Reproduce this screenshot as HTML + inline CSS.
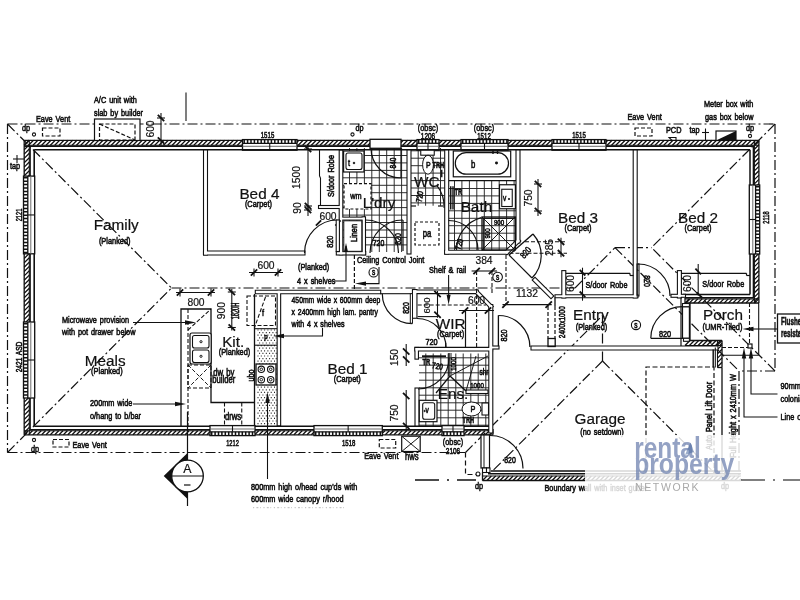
<!DOCTYPE html>
<html><head><meta charset="utf-8"><title>Floor plan</title>
<style>
html,body{margin:0;padding:0;background:#fff;}
body{width:800px;height:600px;overflow:hidden;font-family:"Liberation Sans",sans-serif;}
svg{display:block;}
svg text{font-family:"Liberation Sans",sans-serif;}
</style></head><body>
<svg width="800" height="600" viewBox="0 0 800 600">
<rect x="0" y="0" width="800" height="600" fill="#ffffff"/>
<g opacity="0.999">
<path d="M349.5,148 V252 M356.9,148 V252 M364.4,148 V252 M371.8,148 V252 M379.3,148 V252 M386.7,148 V252 M394.2,148 V252 M401.6,148 V252 M343,155.5 H407 M343,162.9 H407 M343,170.4 H407 M343,177.8 H407 M343,185.3 H407 M343,192.7 H407 M343,200.2 H407 M343,207.6 H407 M343,215.1 H407 M343,222.5 H407 M343,230.0 H407 M343,237.4 H407 M343,244.9 H407" fill="none" stroke="#222" stroke-width="0.94"/>
<path d="M418.2,148 V205.75 M425.6,148 V205.75 M433.1,148 V205.75 M440.5,148 V205.75 M411,150.8 H444.5 M411,158.2 H444.5 M411,165.7 H444.5 M411,173.1 H444.5 M411,180.6 H444.5 M411,188.0 H444.5 M411,195.5 H444.5 M411,202.9 H444.5" fill="none" stroke="#222" stroke-width="0.94"/>
<path d="M454.5,180.7 V252 M461.9,180.7 V252 M469.4,180.7 V252 M476.8,180.7 V252 M484.3,180.7 V252 M491.7,180.7 V252 M499.2,180.7 V252 M506.6,180.7 V252 M514.1,180.7 V252 M449,188.5 H516 M449,195.9 H516 M449,203.4 H516 M449,210.8 H516 M449,218.3 H516 M449,225.7 H516 M449,233.2 H516 M449,240.6 H516 M449,248.1 H516" fill="none" stroke="#222" stroke-width="0.94"/>
<line x1="449" y1="180.7" x2="516" y2="180.7" stroke="#111111" stroke-width="1.2"/>
<path d="M425.8,353.5 V426 M433.2,353.5 V426 M440.8,353.5 V426 M448.2,353.5 V426 M455.8,353.5 V426 M463.2,353.5 V426 M470.8,353.5 V426 M478.2,353.5 V426 M485.8,353.5 V426 M419,357.8 H489 M419,365.2 H489 M419,372.8 H489 M419,380.2 H489 M419,387.8 H489 M419,395.2 H489 M419,402.8 H489 M419,410.2 H489 M419,417.8 H489 M419,425.2 H489" fill="none" stroke="#222" stroke-width="0.94"/>
<line x1="7.5" y1="124" x2="775" y2="124" stroke="#111111" stroke-width="1.2" stroke-dasharray="10 3 2 3"/>
<line x1="7.5" y1="124" x2="7.5" y2="452.5" stroke="#111111" stroke-width="1.2" stroke-dasharray="10 3 2 3"/>
<line x1="7.5" y1="452.5" x2="465.5" y2="452.5" stroke="#111111" stroke-width="1.2" stroke-dasharray="10 3 2 3"/>
<line x1="775" y1="124" x2="775" y2="371" stroke="#111111" stroke-width="1.2" stroke-dasharray="10 3 2 3"/>
<line x1="775" y1="371" x2="739" y2="371" stroke="#111111" stroke-width="1.2" stroke-dasharray="10 3 2 3"/>
<line x1="739" y1="371" x2="739" y2="475" stroke="#111111" stroke-width="1.2" stroke-dasharray="10 3 2 3"/>
<polyline points="465.5,452.5 465.5,474.5 476,474.5" fill="none" stroke="#111111" stroke-width="1.2" stroke-dasharray="5 3"/>
<line x1="415" y1="480" x2="476" y2="480" stroke="#111111" stroke-width="1.6" stroke-dasharray="24 8 2 8"/>
<line x1="741" y1="480" x2="800" y2="480" stroke="#555" stroke-width="1.4" stroke-dasharray="24 8 2 8"/>
<line x1="7.5" y1="124" x2="171.5" y2="288" stroke="#111111" stroke-width="1.2" stroke-dasharray="10 3 2 3"/>
<line x1="7.5" y1="452.5" x2="171.5" y2="288" stroke="#111111" stroke-width="1.2" stroke-dasharray="10 3 2 3"/>
<line x1="171.5" y1="288" x2="575" y2="288" stroke="#111111" stroke-width="1.2" stroke-dasharray="10 3 2 3"/>
<line x1="575" y1="288" x2="615" y2="247.6" stroke="#111111" stroke-width="1.2" stroke-dasharray="10 3 2 3"/>
<line x1="615" y1="247.6" x2="651.5" y2="247.6" stroke="#111111" stroke-width="1.2" stroke-dasharray="10 3 2 3"/>
<line x1="775" y1="124" x2="651.5" y2="247.6" stroke="#111111" stroke-width="1.2" stroke-dasharray="10 3 2 3"/>
<line x1="775" y1="371" x2="651.5" y2="247.6" stroke="#111111" stroke-width="1.2" stroke-dasharray="10 3 2 3"/>
<line x1="615" y1="247.6" x2="739" y2="371" stroke="#111111" stroke-width="1.2" stroke-dasharray="10 3 2 3"/>
<line x1="465.5" y1="452.5" x2="602.5" y2="315.5" stroke="#111111" stroke-width="1.2" stroke-dasharray="10 3 2 3"/>
<line x1="602.5" y1="315.5" x2="602.5" y2="361" stroke="#111111" stroke-width="1.2" stroke-dasharray="10 3 2 3"/>
<line x1="602.5" y1="361" x2="491.5" y2="472" stroke="#111111" stroke-width="1.2" stroke-dasharray="10 3 2 3"/>
<line x1="602.5" y1="361" x2="716.5" y2="475" stroke="#111111" stroke-width="1.2" stroke-dasharray="10 3 2 3"/>
<line x1="24.2" y1="140.3" x2="759" y2="140.3" stroke="#111111" stroke-width="1.32"/>
<line x1="24.2" y1="145.3" x2="759" y2="145.3" stroke="#111111" stroke-width="1.08"/>
<path d="M24.2,145.3 L29.2,140.3 M28.5,145.3 L33.5,140.3 M32.9,145.3 L37.9,140.3 M37.2,145.3 L42.2,140.3 M41.6,145.3 L46.6,140.3 M46.0,145.3 L51.0,140.3 M50.3,145.3 L55.3,140.3 M54.7,145.3 L59.7,140.3 M59.0,145.3 L64.0,140.3 M63.4,145.3 L68.4,140.3 M67.7,145.3 L72.7,140.3 M72.0,145.3 L77.0,140.3 M76.4,145.3 L81.4,140.3 M80.7,145.3 L85.7,140.3 M85.1,145.3 L90.1,140.3 M89.4,145.3 L94.4,140.3 M93.8,145.3 L98.8,140.3 M98.1,145.3 L103.1,140.3 M102.5,145.3 L107.5,140.3 M106.8,145.3 L111.8,140.3 M111.2,145.3 L116.2,140.3 M115.5,145.3 L120.5,140.3 M119.9,145.3 L124.9,140.3 M124.2,145.3 L129.2,140.3 M128.6,145.3 L133.6,140.3 M132.9,145.3 L137.9,140.3 M137.3,145.3 L142.3,140.3 M141.6,145.3 L146.6,140.3 M146.0,145.3 L151.0,140.3 M150.3,145.3 L155.3,140.3 M154.7,145.3 L159.7,140.3 M159.0,145.3 L164.0,140.3 M163.4,145.3 L168.4,140.3 M167.7,145.3 L172.7,140.3 M172.1,145.3 L177.1,140.3 M176.4,145.3 L181.4,140.3 M180.8,145.3 L185.8,140.3 M185.1,145.3 L190.1,140.3 M189.5,145.3 L194.5,140.3 M193.8,145.3 L198.8,140.3 M198.2,145.3 L203.2,140.3 M202.5,145.3 L207.5,140.3 M206.9,145.3 L211.9,140.3 M211.2,145.3 L216.2,140.3 M215.6,145.3 L220.6,140.3 M219.9,145.3 L224.9,140.3 M224.3,145.3 L229.3,140.3 M228.6,145.3 L233.6,140.3 M233.0,145.3 L238.0,140.3 M237.3,145.3 L242.3,140.3 M241.7,145.3 L246.7,140.3 M246.0,145.3 L251.0,140.3 M250.4,145.3 L255.4,140.3 M254.7,145.3 L259.7,140.3 M259.1,145.3 L264.1,140.3 M263.4,145.3 L268.4,140.3 M267.8,145.3 L272.8,140.3 M272.1,145.3 L277.1,140.3 M276.5,145.3 L281.5,140.3 M280.8,145.3 L285.8,140.3 M285.2,145.3 L290.2,140.3 M289.5,145.3 L294.5,140.3 M293.9,145.3 L298.9,140.3 M298.2,145.3 L303.2,140.3 M302.6,145.3 L307.6,140.3 M307.0,145.3 L312.0,140.3 M311.3,145.3 L316.3,140.3 M315.7,145.3 L320.7,140.3 M320.0,145.3 L325.0,140.3 M324.4,145.3 L329.4,140.3 M328.7,145.3 L333.7,140.3 M333.1,145.3 L338.1,140.3 M337.4,145.3 L342.4,140.3 M341.8,145.3 L346.8,140.3 M346.1,145.3 L351.1,140.3 M350.5,145.3 L355.5,140.3 M354.8,145.3 L359.8,140.3 M359.2,145.3 L364.2,140.3 M363.5,145.3 L368.5,140.3 M367.9,145.3 L372.9,140.3 M372.2,145.3 L377.2,140.3 M376.6,145.3 L381.6,140.3 M380.9,145.3 L385.9,140.3 M385.3,145.3 L390.3,140.3 M389.6,145.3 L394.6,140.3 M394.0,145.3 L399.0,140.3 M398.3,145.3 L403.3,140.3 M402.7,145.3 L407.7,140.3 M407.0,145.3 L412.0,140.3 M411.4,145.3 L416.4,140.3 M415.7,145.3 L420.7,140.3 M420.1,145.3 L425.1,140.3 M424.4,145.3 L429.4,140.3 M428.8,145.3 L433.8,140.3 M433.1,145.3 L438.1,140.3 M437.5,145.3 L442.5,140.3 M441.8,145.3 L446.8,140.3 M446.2,145.3 L451.2,140.3 M450.5,145.3 L455.5,140.3 M454.9,145.3 L459.9,140.3 M459.2,145.3 L464.2,140.3 M463.6,145.3 L468.6,140.3 M467.9,145.3 L472.9,140.3 M472.3,145.3 L477.3,140.3 M476.6,145.3 L481.6,140.3 M481.0,145.3 L486.0,140.3 M485.3,145.3 L490.3,140.3 M489.7,145.3 L494.7,140.3 M494.0,145.3 L499.0,140.3 M498.4,145.3 L503.4,140.3 M502.7,145.3 L507.7,140.3 M507.1,145.3 L512.1,140.3 M511.4,145.3 L516.4,140.3 M515.8,145.3 L520.8,140.3 M520.1,145.3 L525.1,140.3 M524.5,145.3 L529.5,140.3 M528.8,145.3 L533.8,140.3 M533.2,145.3 L538.2,140.3 M537.5,145.3 L542.5,140.3 M541.9,145.3 L546.9,140.3 M546.2,145.3 L551.2,140.3 M550.6,145.3 L555.6,140.3 M554.9,145.3 L559.9,140.3 M559.3,145.3 L564.3,140.3 M563.6,145.3 L568.6,140.3 M568.0,145.3 L573.0,140.3 M572.3,145.3 L577.3,140.3 M576.7,145.3 L581.7,140.3 M581.0,145.3 L586.0,140.3 M585.4,145.3 L590.4,140.3 M589.7,145.3 L594.7,140.3 M594.1,145.3 L599.1,140.3 M598.4,145.3 L603.4,140.3 M602.8,145.3 L607.8,140.3 M607.1,145.3 L612.1,140.3 M611.5,145.3 L616.5,140.3 M615.8,145.3 L620.8,140.3 M620.2,145.3 L625.2,140.3 M624.5,145.3 L629.5,140.3 M628.9,145.3 L633.9,140.3 M633.2,145.3 L638.2,140.3 M637.6,145.3 L642.6,140.3 M641.9,145.3 L646.9,140.3 M646.3,145.3 L651.3,140.3 M650.6,145.3 L655.6,140.3 M655.0,145.3 L660.0,140.3 M659.3,145.3 L664.3,140.3 M663.7,145.3 L668.7,140.3 M668.0,145.3 L673.0,140.3 M672.4,145.3 L677.4,140.3 M676.7,145.3 L681.7,140.3 M681.1,145.3 L686.1,140.3 M685.4,145.3 L690.4,140.3 M689.8,145.3 L694.8,140.3 M694.1,145.3 L699.1,140.3 M698.5,145.3 L703.5,140.3 M702.8,145.3 L707.8,140.3 M707.2,145.3 L712.2,140.3 M711.5,145.3 L716.5,140.3 M715.9,145.3 L720.9,140.3 M720.2,145.3 L725.2,140.3 M724.6,145.3 L729.6,140.3 M728.9,145.3 L733.9,140.3 M733.3,145.3 L738.3,140.3 M737.6,145.3 L742.6,140.3 M742.0,145.3 L747.0,140.3 M746.3,145.3 L751.3,140.3 M750.7,145.3 L755.7,140.3 M755.0,145.3 L759.0,141.3" fill="none" stroke="#111111" stroke-width="1.26"/>
<line x1="24.2" y1="146.3" x2="754" y2="146.3" stroke="#111111" stroke-width="1.44"/>
<line x1="34.2" y1="149.7" x2="750" y2="149.7" stroke="#111111" stroke-width="1.4"/>
<line x1="24.2" y1="140.3" x2="24.2" y2="434.8" stroke="#111111" stroke-width="1.32"/>
<line x1="29.3" y1="140.3" x2="29.3" y2="434.8" stroke="#111111" stroke-width="1.08"/>
<path d="M24.2,145.4 L29.3,140.3 M24.2,149.8 L29.3,144.7 M24.2,154.1 L29.3,149.0 M24.2,158.4 L29.3,153.3 M24.2,162.8 L29.3,157.7 M24.2,167.1 L29.3,162.0 M24.2,171.5 L29.3,166.4 M24.2,175.8 L29.3,170.7 M24.2,180.2 L29.3,175.1 M24.2,184.5 L29.3,179.4 M24.2,188.9 L29.3,183.8 M24.2,193.2 L29.3,188.1 M24.2,197.6 L29.3,192.5 M24.2,201.9 L29.3,196.8 M24.2,206.3 L29.3,201.2 M24.2,210.6 L29.3,205.5 M24.2,215.0 L29.3,209.9 M24.2,219.3 L29.3,214.2 M24.2,223.7 L29.3,218.6 M24.2,228.0 L29.3,222.9 M24.2,232.4 L29.3,227.3 M24.2,236.7 L29.3,231.6 M24.2,241.1 L29.3,236.0 M24.2,245.4 L29.3,240.3 M24.2,249.8 L29.3,244.7 M24.2,254.1 L29.3,249.0 M24.2,258.5 L29.3,253.4 M24.2,262.8 L29.3,257.7 M24.2,267.2 L29.3,262.1 M24.2,271.5 L29.3,266.4 M24.2,275.9 L29.3,270.8 M24.2,280.2 L29.3,275.1 M24.2,284.6 L29.3,279.5 M24.2,289.0 L29.3,283.9 M24.2,293.3 L29.3,288.2 M24.2,297.7 L29.3,292.6 M24.2,302.0 L29.3,296.9 M24.2,306.4 L29.3,301.3 M24.2,310.7 L29.3,305.6 M24.2,315.1 L29.3,310.0 M24.2,319.4 L29.3,314.3 M24.2,323.8 L29.3,318.7 M24.2,328.1 L29.3,323.0 M24.2,332.5 L29.3,327.4 M24.2,336.8 L29.3,331.7 M24.2,341.2 L29.3,336.1 M24.2,345.5 L29.3,340.4 M24.2,349.9 L29.3,344.8 M24.2,354.2 L29.3,349.1 M24.2,358.6 L29.3,353.5 M24.2,362.9 L29.3,357.8 M24.2,367.3 L29.3,362.2 M24.2,371.6 L29.3,366.5 M24.2,376.0 L29.3,370.9 M24.2,380.3 L29.3,375.2 M24.2,384.7 L29.3,379.6 M24.2,389.0 L29.3,383.9 M24.2,393.4 L29.3,388.3 M24.2,397.7 L29.3,392.6 M24.2,402.1 L29.3,397.0 M24.2,406.4 L29.3,401.3 M24.2,410.8 L29.3,405.7 M24.2,415.1 L29.3,410.0 M24.2,419.5 L29.3,414.4 M24.2,423.8 L29.3,418.7 M24.2,428.2 L29.3,423.1 M24.2,432.5 L29.3,427.4 M24.2,434.8 L27.2,431.8" fill="none" stroke="#111111" stroke-width="1.26"/>
<line x1="30.2" y1="146" x2="30.2" y2="429.5" stroke="#111111" stroke-width="1.3"/>
<line x1="34.2" y1="149.7" x2="34.2" y2="426" stroke="#111111" stroke-width="1.6"/>
<line x1="24.2" y1="434.8" x2="493" y2="434.8" stroke="#111111" stroke-width="1.32"/>
<line x1="24.2" y1="430.8" x2="493" y2="430.8" stroke="#111111" stroke-width="1.08"/>
<path d="M24.2,434.8 L28.2,430.8 M28.5,434.8 L32.5,430.8 M32.9,434.8 L36.9,430.8 M37.2,434.8 L41.2,430.8 M41.6,434.8 L45.6,430.8 M46.0,434.8 L50.0,430.8 M50.3,434.8 L54.3,430.8 M54.7,434.8 L58.7,430.8 M59.0,434.8 L63.0,430.8 M63.4,434.8 L67.4,430.8 M67.7,434.8 L71.7,430.8 M72.0,434.8 L76.0,430.8 M76.4,434.8 L80.4,430.8 M80.7,434.8 L84.7,430.8 M85.1,434.8 L89.1,430.8 M89.4,434.8 L93.4,430.8 M93.8,434.8 L97.8,430.8 M98.1,434.8 L102.1,430.8 M102.5,434.8 L106.5,430.8 M106.8,434.8 L110.8,430.8 M111.2,434.8 L115.2,430.8 M115.5,434.8 L119.5,430.8 M119.9,434.8 L123.9,430.8 M124.2,434.8 L128.2,430.8 M128.6,434.8 L132.6,430.8 M132.9,434.8 L136.9,430.8 M137.3,434.8 L141.3,430.8 M141.6,434.8 L145.6,430.8 M146.0,434.8 L150.0,430.8 M150.3,434.8 L154.3,430.8 M154.7,434.8 L158.7,430.8 M159.0,434.8 L163.0,430.8 M163.4,434.8 L167.4,430.8 M167.7,434.8 L171.7,430.8 M172.1,434.8 L176.1,430.8 M176.4,434.8 L180.4,430.8 M180.8,434.8 L184.8,430.8 M185.1,434.8 L189.1,430.8 M189.5,434.8 L193.5,430.8 M193.8,434.8 L197.8,430.8 M198.2,434.8 L202.2,430.8 M202.5,434.8 L206.5,430.8 M206.9,434.8 L210.9,430.8 M211.2,434.8 L215.2,430.8 M215.6,434.8 L219.6,430.8 M219.9,434.8 L223.9,430.8 M224.3,434.8 L228.3,430.8 M228.6,434.8 L232.6,430.8 M233.0,434.8 L237.0,430.8 M237.3,434.8 L241.3,430.8 M241.7,434.8 L245.7,430.8 M246.0,434.8 L250.0,430.8 M250.4,434.8 L254.4,430.8 M254.7,434.8 L258.7,430.8 M259.1,434.8 L263.1,430.8 M263.4,434.8 L267.4,430.8 M267.8,434.8 L271.8,430.8 M272.1,434.8 L276.1,430.8 M276.5,434.8 L280.5,430.8 M280.8,434.8 L284.8,430.8 M285.2,434.8 L289.2,430.8 M289.5,434.8 L293.5,430.8 M293.9,434.8 L297.9,430.8 M298.2,434.8 L302.2,430.8 M302.6,434.8 L306.6,430.8 M307.0,434.8 L311.0,430.8 M311.3,434.8 L315.3,430.8 M315.7,434.8 L319.7,430.8 M320.0,434.8 L324.0,430.8 M324.4,434.8 L328.4,430.8 M328.7,434.8 L332.7,430.8 M333.1,434.8 L337.1,430.8 M337.4,434.8 L341.4,430.8 M341.8,434.8 L345.8,430.8 M346.1,434.8 L350.1,430.8 M350.5,434.8 L354.5,430.8 M354.8,434.8 L358.8,430.8 M359.2,434.8 L363.2,430.8 M363.5,434.8 L367.5,430.8 M367.9,434.8 L371.9,430.8 M372.2,434.8 L376.2,430.8 M376.6,434.8 L380.6,430.8 M380.9,434.8 L384.9,430.8 M385.3,434.8 L389.3,430.8 M389.6,434.8 L393.6,430.8 M394.0,434.8 L398.0,430.8 M398.3,434.8 L402.3,430.8 M402.7,434.8 L406.7,430.8 M407.0,434.8 L411.0,430.8 M411.4,434.8 L415.4,430.8 M415.7,434.8 L419.7,430.8 M420.1,434.8 L424.1,430.8 M424.4,434.8 L428.4,430.8 M428.8,434.8 L432.8,430.8 M433.1,434.8 L437.1,430.8 M437.5,434.8 L441.5,430.8 M441.8,434.8 L445.8,430.8 M446.2,434.8 L450.2,430.8 M450.5,434.8 L454.5,430.8 M454.9,434.8 L458.9,430.8 M459.2,434.8 L463.2,430.8 M463.6,434.8 L467.6,430.8 M467.9,434.8 L471.9,430.8 M472.3,434.8 L476.3,430.8 M476.6,434.8 L480.6,430.8 M481.0,434.8 L485.0,430.8 M485.3,434.8 L489.3,430.8 M489.7,434.8 L493.0,431.5" fill="none" stroke="#111111" stroke-width="1.26"/>
<line x1="30" y1="429.6" x2="493" y2="429.6" stroke="#111111" stroke-width="1.44"/>
<line x1="34.2" y1="426.3" x2="489" y2="426.3" stroke="#111111" stroke-width="1.6"/>
<line x1="493" y1="429" x2="493" y2="434.8" stroke="#111111" stroke-width="1.32"/>
<line x1="758.9" y1="140.3" x2="758.9" y2="303" stroke="#111111" stroke-width="1.32"/>
<line x1="754.4" y1="140.3" x2="754.4" y2="303" stroke="#111111" stroke-width="1.08"/>
<path d="M754.4,144.8 L758.9,140.3 M754.4,149.2 L758.9,144.7 M754.4,153.5 L758.9,149.0 M754.4,157.8 L758.9,153.3 M754.4,162.2 L758.9,157.7 M754.4,166.5 L758.9,162.0 M754.4,170.9 L758.9,166.4 M754.4,175.2 L758.9,170.7 M754.4,179.6 L758.9,175.1 M754.4,183.9 L758.9,179.4 M754.4,188.3 L758.9,183.8 M754.4,192.6 L758.9,188.1 M754.4,197.0 L758.9,192.5 M754.4,201.3 L758.9,196.8 M754.4,205.7 L758.9,201.2 M754.4,210.0 L758.9,205.5 M754.4,214.4 L758.9,209.9 M754.4,218.7 L758.9,214.2 M754.4,223.1 L758.9,218.6 M754.4,227.4 L758.9,222.9 M754.4,231.8 L758.9,227.3 M754.4,236.1 L758.9,231.6 M754.4,240.5 L758.9,236.0 M754.4,244.8 L758.9,240.3 M754.4,249.2 L758.9,244.7 M754.4,253.5 L758.9,249.0 M754.4,257.9 L758.9,253.4 M754.4,262.2 L758.9,257.7 M754.4,266.6 L758.9,262.1 M754.4,270.9 L758.9,266.4 M754.4,275.3 L758.9,270.8 M754.4,279.6 L758.9,275.1 M754.4,284.0 L758.9,279.5 M754.4,288.4 L758.9,283.9 M754.4,292.7 L758.9,288.2 M754.4,297.1 L758.9,292.6 M754.4,301.4 L758.9,296.9 M754.4,303.0 L756.1,301.3" fill="none" stroke="#111111" stroke-width="1.26"/>
<line x1="753.4" y1="146" x2="753.4" y2="298" stroke="#111111" stroke-width="1.44"/>
<line x1="750" y1="149.7" x2="750" y2="294.5" stroke="#111111" stroke-width="1.5"/>
<line x1="685" y1="303" x2="759" y2="303" stroke="#111111" stroke-width="1.32"/>
<line x1="685" y1="298.9" x2="759" y2="298.9" stroke="#111111" stroke-width="1.08"/>
<path d="M685.0,303 L689.1,298.9 M689.4,303 L693.5,298.9 M693.7,303 L697.8,298.9 M698.1,303 L702.2,298.9 M702.4,303 L706.5,298.9 M706.8,303 L710.9,298.9 M711.1,303 L715.2,298.9 M715.5,303 L719.6,298.9 M719.8,303 L723.9,298.9 M724.2,303 L728.3,298.9 M728.5,303 L732.6,298.9 M732.9,303 L737.0,298.9 M737.2,303 L741.3,298.9 M741.6,303 L745.7,298.9 M745.9,303 L750.0,298.9 M750.3,303 L754.4,298.9 M754.6,303 L758.7,298.9 M759.0,303 L759.0,303.0" fill="none" stroke="#111111" stroke-width="1.26"/>
<line x1="683" y1="294.5" x2="750" y2="294.5" stroke="#111111" stroke-width="1.4"/>
<line x1="685" y1="297.6" x2="753.4" y2="297.6" stroke="#111111" stroke-width="1.3"/>
<line x1="685" y1="340.5" x2="722" y2="340.5" stroke="#111111" stroke-width="1.32"/>
<line x1="685" y1="345.5" x2="722" y2="345.5" stroke="#111111" stroke-width="1.08"/>
<path d="M685.0,345.5 L690.0,340.5 M689.4,345.5 L694.4,340.5 M693.7,345.5 L698.7,340.5 M698.1,345.5 L703.1,340.5 M702.4,345.5 L707.4,340.5 M706.8,345.5 L711.8,340.5 M711.1,345.5 L716.1,340.5 M715.5,345.5 L720.5,340.5 M719.8,345.5 L722.0,343.3" fill="none" stroke="#111111" stroke-width="1.26"/>
<line x1="722" y1="340.5" x2="722" y2="367.5" stroke="#111111" stroke-width="1.32"/>
<line x1="717.5" y1="340.5" x2="717.5" y2="367.5" stroke="#111111" stroke-width="1.08"/>
<path d="M717.5,345.0 L722.0,340.5 M717.5,349.4 L722.0,344.9 M717.5,353.7 L722.0,349.2 M717.5,358.1 L722.0,353.6 M717.5,362.4 L722.0,357.9 M717.5,366.8 L722.0,362.3 M717.5,367.5 L718.4,366.6" fill="none" stroke="#111111" stroke-width="1.26"/>
<line x1="717.5" y1="367.5" x2="722" y2="367.5" stroke="#111111" stroke-width="1.32"/>
<line x1="685" y1="303" x2="685" y2="340.5" stroke="#111111" stroke-width="1.32"/>
<line x1="690" y1="303" x2="690" y2="340.5" stroke="#111111" stroke-width="1.32"/>
<path d="M685,304.0 L690.0,299.0 M685,306.0 L687.6,303.4" fill="none" stroke="#111111" stroke-width="1.26"/>
<line x1="685" y1="298" x2="685" y2="303" stroke="#111111" stroke-width="1.32"/>
<line x1="482.5" y1="480.5" x2="741" y2="480.5" stroke="#111111" stroke-width="1.32"/>
<line x1="482.5" y1="476" x2="741" y2="476" stroke="#111111" stroke-width="1.08"/>
<path d="M482.5,480.5 L487.0,476.0 M486.9,480.5 L491.4,476.0 M491.2,480.5 L495.7,476.0 M495.6,480.5 L500.1,476.0 M499.9,480.5 L504.4,476.0 M504.3,480.5 L508.8,476.0 M508.6,480.5 L513.1,476.0 M513.0,480.5 L517.5,476.0 M517.3,480.5 L521.8,476.0 M521.7,480.5 L526.2,476.0 M526.0,480.5 L530.5,476.0 M530.4,480.5 L534.9,476.0 M534.7,480.5 L539.2,476.0 M539.1,480.5 L543.6,476.0 M543.4,480.5 L547.9,476.0 M547.8,480.5 L552.3,476.0 M552.1,480.5 L556.6,476.0 M556.5,480.5 L561.0,476.0 M560.8,480.5 L565.3,476.0 M565.2,480.5 L569.7,476.0 M569.5,480.5 L574.0,476.0 M573.9,480.5 L578.4,476.0 M578.2,480.5 L582.7,476.0 M582.6,480.5 L587.1,476.0 M586.9,480.5 L591.4,476.0 M591.3,480.5 L595.8,476.0 M595.6,480.5 L600.1,476.0 M600.0,480.5 L604.5,476.0 M604.3,480.5 L608.8,476.0 M608.7,480.5 L613.2,476.0 M613.0,480.5 L617.5,476.0 M617.4,480.5 L621.9,476.0 M621.7,480.5 L626.2,476.0 M626.1,480.5 L630.6,476.0 M630.4,480.5 L634.9,476.0 M634.8,480.5 L639.3,476.0 M639.1,480.5 L643.6,476.0 M643.5,480.5 L648.0,476.0 M647.8,480.5 L652.3,476.0 M652.2,480.5 L656.7,476.0 M656.5,480.5 L661.0,476.0 M660.9,480.5 L665.4,476.0 M665.2,480.5 L669.7,476.0 M669.6,480.5 L674.1,476.0 M673.9,480.5 L678.4,476.0 M678.3,480.5 L682.8,476.0 M682.6,480.5 L687.1,476.0 M687.0,480.5 L691.5,476.0 M691.3,480.5 L695.8,476.0 M695.7,480.5 L700.2,476.0 M700.0,480.5 L704.5,476.0 M704.4,480.5 L708.9,476.0 M708.7,480.5 L713.2,476.0 M713.1,480.5 L717.6,476.0 M717.4,480.5 L721.9,476.0 M721.8,480.5 L726.3,476.0 M726.1,480.5 L730.6,476.0 M730.5,480.5 L735.0,476.0 M734.8,480.5 L739.3,476.0 M739.2,480.5 L741.0,478.7" fill="none" stroke="#111111" stroke-width="1.26"/>
<line x1="491" y1="471" x2="741" y2="471" stroke="#111111" stroke-width="1.4"/>
<line x1="488" y1="473.8" x2="741" y2="473.8" stroke="#111111" stroke-width="1.44"/>
<line x1="482.5" y1="472.5" x2="482.5" y2="480.5" stroke="#111111" stroke-width="1.32"/>
<line x1="722" y1="367.5" x2="722" y2="472.5" stroke="#111111" stroke-width="1.32"/>
<line x1="205.5" y1="152" x2="205.5" y2="253" stroke="#111111" stroke-width="5.1" stroke-linecap="square"/>
<line x1="205.5" y1="253" x2="303" y2="253" stroke="#111111" stroke-width="5.1" stroke-linecap="square"/>
<line x1="341.0" y1="152" x2="341.0" y2="253" stroke="#111111" stroke-width="4.7" stroke-linecap="square"/>
<line x1="320" y1="207" x2="341.0" y2="207" stroke="#111111" stroke-width="4.1" stroke-linecap="square"/>
<line x1="338" y1="253.3" x2="364" y2="253.3" stroke="#111111" stroke-width="4.5" stroke-linecap="square"/>
<line x1="341.0" y1="218.6" x2="363.8" y2="218.6" stroke="#111111" stroke-width="4.1" stroke-linecap="square"/>
<line x1="363.8" y1="218.6" x2="363.8" y2="253" stroke="#111111" stroke-width="4.5" stroke-linecap="square"/>
<line x1="409" y1="152" x2="409" y2="252" stroke="#111111" stroke-width="5.1" stroke-linecap="square"/>
<line x1="446.7" y1="152" x2="446.7" y2="252" stroke="#111111" stroke-width="5.1" stroke-linecap="square"/>
<line x1="446.7" y1="252.2" x2="506" y2="252.2" stroke="#111111" stroke-width="5.1" stroke-linecap="square"/>
<line x1="518" y1="152" x2="518" y2="241" stroke="#111111" stroke-width="5.1" stroke-linecap="square"/>
<line x1="518" y1="241" x2="507" y2="252" stroke="#111111" stroke-width="5.1" stroke-linecap="square"/>
<line x1="635.2" y1="152" x2="635.2" y2="296" stroke="#111111" stroke-width="5.1" stroke-linecap="square"/>
<line x1="563.8" y1="272.6" x2="563.8" y2="296" stroke="#111111" stroke-width="5.1" stroke-linecap="square"/>
<line x1="556.5" y1="296.2" x2="636.5" y2="296.2" stroke="#111111" stroke-width="4.1" stroke-linecap="square"/>
<line x1="672.5" y1="295.8" x2="684" y2="295.8" stroke="#111111" stroke-width="4.1" stroke-linecap="square"/>
<line x1="679.4" y1="272.6" x2="679.4" y2="296" stroke="#111111" stroke-width="5.1" stroke-linecap="square"/>
<line x1="533" y1="348" x2="716" y2="348" stroke="#111111" stroke-width="5.1" stroke-linecap="square"/>
<line x1="490.8" y1="306.5" x2="490.8" y2="431" stroke="#111111" stroke-width="5.1" stroke-linecap="square"/>
<line x1="490.8" y1="347.5" x2="497.5" y2="347.5" stroke="#111111" stroke-width="4.1" stroke-linecap="square"/>
<line x1="414.7" y1="291.8" x2="476.5" y2="291.8" stroke="#111111" stroke-width="4.7" stroke-linecap="square"/>
<line x1="476.5" y1="291.8" x2="490.8" y2="306.5" stroke="#111111" stroke-width="4.7" stroke-linecap="square"/>
<line x1="414.7" y1="291.8" x2="414.7" y2="316" stroke="#111111" stroke-width="5.6" stroke-linecap="square"/>
<line x1="416.7" y1="349.2" x2="490.8" y2="349.2" stroke="#111111" stroke-width="4.7" stroke-linecap="square"/>
<line x1="416.7" y1="349.2" x2="416.7" y2="357.4" stroke="#111111" stroke-width="4.6" stroke-linecap="square"/>
<line x1="417" y1="390" x2="417" y2="424" stroke="#111111" stroke-width="5.1" stroke-linecap="square"/>
<line x1="278.9" y1="292" x2="278.9" y2="424" stroke="#111111" stroke-width="4.6" stroke-linecap="square"/>
<line x1="257" y1="292" x2="379" y2="292" stroke="#111111" stroke-width="4.5" stroke-linecap="square"/>
<line x1="535" y1="280" x2="551" y2="296" stroke="#111111" stroke-width="5.1" stroke-linecap="square"/>
<line x1="486.5" y1="437" x2="486.5" y2="440" stroke="#111111" stroke-width="4.1" stroke-linecap="square"/>
<line x1="205.5" y1="152" x2="205.5" y2="253" stroke="#fff" stroke-width="2.9" stroke-linecap="square"/>
<line x1="205.5" y1="253" x2="303" y2="253" stroke="#fff" stroke-width="2.9" stroke-linecap="square"/>
<line x1="341.0" y1="152" x2="341.0" y2="253" stroke="#fff" stroke-width="2.5" stroke-linecap="square"/>
<line x1="320" y1="207" x2="341.0" y2="207" stroke="#fff" stroke-width="1.9" stroke-linecap="square"/>
<line x1="338" y1="253.3" x2="364" y2="253.3" stroke="#fff" stroke-width="2.3" stroke-linecap="square"/>
<line x1="341.0" y1="218.6" x2="363.8" y2="218.6" stroke="#fff" stroke-width="1.9" stroke-linecap="square"/>
<line x1="363.8" y1="218.6" x2="363.8" y2="253" stroke="#fff" stroke-width="2.3" stroke-linecap="square"/>
<line x1="409" y1="152" x2="409" y2="252" stroke="#fff" stroke-width="2.9" stroke-linecap="square"/>
<line x1="446.7" y1="152" x2="446.7" y2="252" stroke="#fff" stroke-width="2.9" stroke-linecap="square"/>
<line x1="446.7" y1="252.2" x2="506" y2="252.2" stroke="#fff" stroke-width="2.9" stroke-linecap="square"/>
<line x1="518" y1="152" x2="518" y2="241" stroke="#fff" stroke-width="2.9" stroke-linecap="square"/>
<line x1="518" y1="241" x2="507" y2="252" stroke="#fff" stroke-width="2.9" stroke-linecap="square"/>
<line x1="635.2" y1="152" x2="635.2" y2="296" stroke="#fff" stroke-width="2.9" stroke-linecap="square"/>
<line x1="563.8" y1="272.6" x2="563.8" y2="296" stroke="#fff" stroke-width="2.9" stroke-linecap="square"/>
<line x1="556.5" y1="296.2" x2="636.5" y2="296.2" stroke="#fff" stroke-width="1.9" stroke-linecap="square"/>
<line x1="672.5" y1="295.8" x2="684" y2="295.8" stroke="#fff" stroke-width="1.9" stroke-linecap="square"/>
<line x1="679.4" y1="272.6" x2="679.4" y2="296" stroke="#fff" stroke-width="2.9" stroke-linecap="square"/>
<line x1="533" y1="348" x2="716" y2="348" stroke="#fff" stroke-width="2.9" stroke-linecap="square"/>
<line x1="490.8" y1="306.5" x2="490.8" y2="431" stroke="#fff" stroke-width="2.9" stroke-linecap="square"/>
<line x1="490.8" y1="347.5" x2="497.5" y2="347.5" stroke="#fff" stroke-width="1.9" stroke-linecap="square"/>
<line x1="414.7" y1="291.8" x2="476.5" y2="291.8" stroke="#fff" stroke-width="2.5" stroke-linecap="square"/>
<line x1="476.5" y1="291.8" x2="490.8" y2="306.5" stroke="#fff" stroke-width="2.5" stroke-linecap="square"/>
<line x1="414.7" y1="291.8" x2="414.7" y2="316" stroke="#fff" stroke-width="3.4" stroke-linecap="square"/>
<line x1="416.7" y1="349.2" x2="490.8" y2="349.2" stroke="#fff" stroke-width="2.5" stroke-linecap="square"/>
<line x1="416.7" y1="349.2" x2="416.7" y2="357.4" stroke="#fff" stroke-width="2.4" stroke-linecap="square"/>
<line x1="417" y1="390" x2="417" y2="424" stroke="#fff" stroke-width="2.9" stroke-linecap="square"/>
<line x1="278.9" y1="292" x2="278.9" y2="424" stroke="#fff" stroke-width="2.4" stroke-linecap="square"/>
<line x1="257" y1="292" x2="379" y2="292" stroke="#fff" stroke-width="2.3" stroke-linecap="square"/>
<line x1="535" y1="280" x2="551" y2="296" stroke="#fff" stroke-width="2.9" stroke-linecap="square"/>
<line x1="486.5" y1="437" x2="486.5" y2="440" stroke="#fff" stroke-width="1.9" stroke-linecap="square"/>
<rect x="242.5" y="139.6" width="54.5" height="10.6" fill="#fff" stroke="#111111" stroke-width="1.32" rx="0"/>
<line x1="242.5" y1="143.3" x2="297" y2="143.3" stroke="#111111" stroke-width="1.32"/>
<line x1="242.5" y1="146.3" x2="297" y2="146.3" stroke="#666" stroke-width="0.96"/>
<line x1="242.5" y1="149.7" x2="297" y2="149.7" stroke="#111111" stroke-width="1.3"/>
<path d="M244.2,139.6 V143.3 M247.6,139.6 V143.3 M251.0,139.6 V143.3 M254.4,139.6 V143.3 M257.8,139.6 V143.3 M261.2,139.6 V143.3 M264.6,139.6 V143.3 M268.0,139.6 V143.3 M271.4,139.6 V143.3 M274.8,139.6 V143.3 M278.2,139.6 V143.3 M281.6,139.6 V143.3 M285.0,139.6 V143.3 M288.4,139.6 V143.3 M291.8,139.6 V143.3 M295.2,139.6 V143.3" fill="none" stroke="#111111" stroke-width="1.5"/>
<line x1="269.75" y1="143.3" x2="269.75" y2="150.2" stroke="#111111" stroke-width="1.08"/>
<rect x="417" y="139.6" width="22" height="10.6" fill="#fff" stroke="#111111" stroke-width="1.32" rx="0"/>
<line x1="417" y1="143.3" x2="439" y2="143.3" stroke="#111111" stroke-width="1.32"/>
<line x1="417" y1="146.3" x2="439" y2="146.3" stroke="#666" stroke-width="0.96"/>
<line x1="417" y1="149.7" x2="439" y2="149.7" stroke="#111111" stroke-width="1.3"/>
<path d="M418.7,139.6 V143.3 M422.1,139.6 V143.3 M425.5,139.6 V143.3 M428.9,139.6 V143.3 M432.3,139.6 V143.3 M435.7,139.6 V143.3" fill="none" stroke="#111111" stroke-width="1.5"/>
<line x1="428.0" y1="143.3" x2="428.0" y2="150.2" stroke="#111111" stroke-width="1.08"/>
<rect x="461" y="139.6" width="47" height="10.6" fill="#fff" stroke="#111111" stroke-width="1.32" rx="0"/>
<line x1="461" y1="143.3" x2="508" y2="143.3" stroke="#111111" stroke-width="1.32"/>
<line x1="461" y1="146.3" x2="508" y2="146.3" stroke="#666" stroke-width="0.96"/>
<line x1="461" y1="149.7" x2="508" y2="149.7" stroke="#111111" stroke-width="1.3"/>
<path d="M462.7,139.6 V143.3 M466.1,139.6 V143.3 M469.5,139.6 V143.3 M472.9,139.6 V143.3 M476.3,139.6 V143.3 M479.7,139.6 V143.3 M483.1,139.6 V143.3 M486.5,139.6 V143.3 M489.9,139.6 V143.3 M493.3,139.6 V143.3 M496.7,139.6 V143.3 M500.1,139.6 V143.3 M503.5,139.6 V143.3 M506.9,139.6 V143.3" fill="none" stroke="#111111" stroke-width="1.5"/>
<line x1="484.5" y1="143.3" x2="484.5" y2="150.2" stroke="#111111" stroke-width="1.08"/>
<rect x="552" y="139.6" width="54" height="10.6" fill="#fff" stroke="#111111" stroke-width="1.32" rx="0"/>
<line x1="552" y1="143.3" x2="606" y2="143.3" stroke="#111111" stroke-width="1.32"/>
<line x1="552" y1="146.3" x2="606" y2="146.3" stroke="#666" stroke-width="0.96"/>
<line x1="552" y1="149.7" x2="606" y2="149.7" stroke="#111111" stroke-width="1.3"/>
<path d="M553.7,139.6 V143.3 M557.1,139.6 V143.3 M560.5,139.6 V143.3 M563.9,139.6 V143.3 M567.3,139.6 V143.3 M570.7,139.6 V143.3 M574.1,139.6 V143.3 M577.5,139.6 V143.3 M580.9,139.6 V143.3 M584.3,139.6 V143.3 M587.7,139.6 V143.3 M591.1,139.6 V143.3 M594.5,139.6 V143.3 M597.9,139.6 V143.3 M601.3,139.6 V143.3 M604.7,139.6 V143.3" fill="none" stroke="#111111" stroke-width="1.5"/>
<line x1="579.0" y1="143.3" x2="579.0" y2="150.2" stroke="#111111" stroke-width="1.08"/>
<rect x="210" y="425.6" width="45" height="10" fill="#fff" stroke="#111111" stroke-width="1.32" rx="0"/>
<line x1="210" y1="429" x2="255" y2="429" stroke="#666" stroke-width="0.96"/>
<line x1="210" y1="431.8" x2="255" y2="431.8" stroke="#111111" stroke-width="1.32"/>
<path d="M211.7,431.8 V435.6 M215.1,431.8 V435.6 M218.5,431.8 V435.6 M221.9,431.8 V435.6 M225.3,431.8 V435.6 M228.7,431.8 V435.6 M232.1,431.8 V435.6 M235.5,431.8 V435.6 M238.9,431.8 V435.6 M242.3,431.8 V435.6 M245.7,431.8 V435.6 M249.1,431.8 V435.6 M252.5,431.8 V435.6" fill="none" stroke="#111111" stroke-width="1.5"/>
<line x1="232.5" y1="425.6" x2="232.5" y2="431.8" stroke="#111111" stroke-width="1.08"/>
<rect x="314" y="425.6" width="68.30000000000001" height="10" fill="#fff" stroke="#111111" stroke-width="1.32" rx="0"/>
<line x1="314" y1="429" x2="382.3" y2="429" stroke="#666" stroke-width="0.96"/>
<line x1="314" y1="431.8" x2="382.3" y2="431.8" stroke="#111111" stroke-width="1.32"/>
<path d="M315.7,431.8 V435.6 M319.1,431.8 V435.6 M322.5,431.8 V435.6 M325.9,431.8 V435.6 M329.3,431.8 V435.6 M332.7,431.8 V435.6 M336.1,431.8 V435.6 M339.5,431.8 V435.6 M342.9,431.8 V435.6 M346.3,431.8 V435.6 M349.7,431.8 V435.6 M353.1,431.8 V435.6 M356.5,431.8 V435.6 M359.9,431.8 V435.6 M363.3,431.8 V435.6 M366.7,431.8 V435.6 M370.1,431.8 V435.6 M373.5,431.8 V435.6 M376.9,431.8 V435.6 M380.3,431.8 V435.6" fill="none" stroke="#111111" stroke-width="1.5"/>
<line x1="348.15" y1="425.6" x2="348.15" y2="431.8" stroke="#111111" stroke-width="1.08"/>
<rect x="442" y="425.6" width="22" height="10" fill="#fff" stroke="#111111" stroke-width="1.32" rx="0"/>
<line x1="442" y1="429" x2="464" y2="429" stroke="#666" stroke-width="0.96"/>
<line x1="442" y1="431.8" x2="464" y2="431.8" stroke="#111111" stroke-width="1.32"/>
<path d="M443.7,431.8 V435.6 M447.1,431.8 V435.6 M450.5,431.8 V435.6 M453.9,431.8 V435.6 M457.3,431.8 V435.6 M460.7,431.8 V435.6" fill="none" stroke="#111111" stroke-width="1.5"/>
<line x1="453.0" y1="425.6" x2="453.0" y2="431.8" stroke="#111111" stroke-width="1.08"/>
<rect x="23.5" y="176.1" width="11.2" height="77.70000000000002" fill="#fff" stroke="#111111" stroke-width="1.32" rx="0"/>
<line x1="27.8" y1="176.1" x2="27.8" y2="253.8" stroke="#111111" stroke-width="1.32"/>
<line x1="30.8" y1="176.1" x2="30.8" y2="253.8" stroke="#666" stroke-width="0.96"/>
<path d="M23.5,177.8 H27.8 M23.5,181.2 H27.8 M23.5,184.6 H27.8 M23.5,188.0 H27.8 M23.5,191.4 H27.8 M23.5,194.8 H27.8 M23.5,198.2 H27.8 M23.5,201.6 H27.8 M23.5,205.0 H27.8 M23.5,208.4 H27.8 M23.5,211.8 H27.8 M23.5,215.2 H27.8 M23.5,218.6 H27.8 M23.5,222.0 H27.8 M23.5,225.4 H27.8 M23.5,228.8 H27.8 M23.5,232.2 H27.8 M23.5,235.6 H27.8 M23.5,239.0 H27.8 M23.5,242.4 H27.8 M23.5,245.8 H27.8 M23.5,249.2 H27.8 M23.5,252.6 H27.8" fill="none" stroke="#111111" stroke-width="1.5"/>
<line x1="27.8" y1="214.95" x2="34.7" y2="214.95" stroke="#111111" stroke-width="1.08"/>
<rect x="23.5" y="322" width="11.2" height="76" fill="#fff" stroke="#111111" stroke-width="1.32" rx="0"/>
<line x1="27.8" y1="322" x2="27.8" y2="398" stroke="#111111" stroke-width="1.32"/>
<line x1="30.8" y1="322" x2="30.8" y2="398" stroke="#666" stroke-width="0.96"/>
<path d="M23.5,323.7 H27.8 M23.5,327.1 H27.8 M23.5,330.5 H27.8 M23.5,333.9 H27.8 M23.5,337.3 H27.8 M23.5,340.7 H27.8 M23.5,344.1 H27.8 M23.5,347.5 H27.8 M23.5,350.9 H27.8 M23.5,354.3 H27.8 M23.5,357.7 H27.8 M23.5,361.1 H27.8 M23.5,364.5 H27.8 M23.5,367.9 H27.8 M23.5,371.3 H27.8 M23.5,374.7 H27.8 M23.5,378.1 H27.8 M23.5,381.5 H27.8 M23.5,384.9 H27.8 M23.5,388.3 H27.8 M23.5,391.7 H27.8 M23.5,395.1 H27.8" fill="none" stroke="#111111" stroke-width="1.5"/>
<line x1="27.8" y1="360.0" x2="34.7" y2="360.0" stroke="#111111" stroke-width="1.08"/>
<rect x="749.3" y="185" width="10.4" height="69" fill="#fff" stroke="#111111" stroke-width="1.32" rx="0"/>
<line x1="752.8" y1="185" x2="752.8" y2="254" stroke="#666" stroke-width="0.96"/>
<line x1="755.6" y1="185" x2="755.6" y2="254" stroke="#111111" stroke-width="1.32"/>
<path d="M755.6,186.7 H759.7 M755.6,190.1 H759.7 M755.6,193.5 H759.7 M755.6,196.9 H759.7 M755.6,200.3 H759.7 M755.6,203.7 H759.7 M755.6,207.1 H759.7 M755.6,210.5 H759.7 M755.6,213.9 H759.7 M755.6,217.3 H759.7 M755.6,220.7 H759.7 M755.6,224.1 H759.7 M755.6,227.5 H759.7 M755.6,230.9 H759.7 M755.6,234.3 H759.7 M755.6,237.7 H759.7 M755.6,241.1 H759.7 M755.6,244.5 H759.7 M755.6,247.9 H759.7 M755.6,251.3 H759.7" fill="none" stroke="#111111" stroke-width="1.5"/>
<line x1="749.3" y1="219.5" x2="755.6" y2="219.5" stroke="#111111" stroke-width="1.08"/>
<rect x="370" y="139.3" width="31" height="9" fill="#fff" stroke="#111111" stroke-width="1.32" rx="0"/>
<text transform="translate(94,103) scale(0.77,1)" font-size="9.5" text-anchor="start" font-weight="normal" fill="#111111" stroke="#111111" stroke-width="0.6" opacity="1" word-spacing="1.2">A/C unit with</text>
<text transform="translate(94,115.5) scale(0.77,1)" font-size="9.5" text-anchor="start" font-weight="normal" fill="#111111" stroke="#111111" stroke-width="0.6" opacity="1" word-spacing="1.2">slab by builder</text>
<text transform="translate(36,122) scale(0.77,1)" font-size="9.5" text-anchor="start" font-weight="normal" fill="#111111" stroke="#111111" stroke-width="0.6" opacity="1" word-spacing="1.2">Eave Vent</text>
<text transform="translate(22,131) scale(0.77,1)" font-size="9.5" text-anchor="start" font-weight="normal" fill="#111111" stroke="#111111" stroke-width="0.6" opacity="1" word-spacing="1.2">dp</text>
<circle cx="34" cy="134.5" r="1.6" fill="none" stroke="#111111" stroke-width="1.08"/>
<rect x="42.5" y="128" width="17.5" height="8" fill="none" stroke="#111111" stroke-width="1.2" stroke-dasharray="4 2" rx="0"/>
<rect x="94.5" y="119" width="45.5" height="21.5" fill="#fff" stroke="#111111" stroke-width="1.2" rx="0"/>
<rect x="99.5" y="124" width="35.5" height="16" fill="none" stroke="#111111" stroke-width="1.2" stroke-dasharray="4 2" rx="0"/>
<line x1="99.5" y1="124" x2="135" y2="140" stroke="#111111" stroke-width="1.2" stroke-dasharray="4 2"/>
<line x1="161" y1="113" x2="161" y2="145.5" stroke="#111111" stroke-width="1.08"/>
<line x1="157" y1="118" x2="165" y2="118" stroke="#111111" stroke-width="1.08"/>
<line x1="157.8" y1="114.8" x2="164.2" y2="121.2" stroke="#111111" stroke-width="1.8"/>
<line x1="157" y1="140.5" x2="165" y2="140.5" stroke="#111111" stroke-width="1.08"/>
<line x1="157.8" y1="137.3" x2="164.2" y2="143.7" stroke="#111111" stroke-width="1.8"/>
<text transform="translate(154,129) rotate(-90)" font-size="10.3" text-anchor="middle" font-weight="normal" fill="#111111" stroke="#111111" stroke-width="0.2" opacity="1" word-spacing="0">600</text>
<line x1="186" y1="92.5" x2="186" y2="121" stroke="#111111" stroke-width="1.08"/>
<text transform="translate(10,169) scale(0.77,1)" font-size="9.5" text-anchor="start" font-weight="normal" fill="#111111" stroke="#111111" stroke-width="0.6" opacity="1" word-spacing="1.2">tap</text>
<line x1="13" y1="159" x2="24.5" y2="159" stroke="#111111" stroke-width="1.08"/>
<line x1="17" y1="155" x2="17" y2="163" stroke="#111111" stroke-width="1.08"/>
<text transform="translate(21.8,215) rotate(-90) scale(0.6,1)" font-size="9.5" text-anchor="middle" font-weight="normal" fill="#111111" stroke="#111111" stroke-width="0.6" opacity="1" word-spacing="1.2">2121</text>
<text transform="translate(22.3,357) rotate(-90) scale(0.7,1)" font-size="9.5" text-anchor="middle" font-weight="normal" fill="#111111" stroke="#111111" stroke-width="0.6" opacity="1" word-spacing="1.2">2421 ASD</text>
<circle cx="34" cy="440" r="1.6" fill="none" stroke="#111111" stroke-width="1.08"/>
<text transform="translate(31,452) scale(0.77,1)" font-size="9.5" text-anchor="start" font-weight="normal" fill="#111111" stroke="#111111" stroke-width="0.6" opacity="1" word-spacing="1.2">dp</text>
<rect x="53" y="439.5" width="16" height="7.5" fill="none" stroke="#111111" stroke-width="1.2" stroke-dasharray="4 2" rx="0"/>
<text transform="translate(72.5,447.5) scale(0.77,1)" font-size="9.5" text-anchor="start" font-weight="normal" fill="#111111" stroke="#111111" stroke-width="0.6" opacity="1" word-spacing="1.2">Eave Vent</text>
<text transform="translate(267.5,138) scale(0.64,1)" font-size="9.5" text-anchor="middle" font-weight="normal" fill="#111111" stroke="#111111" stroke-width="0.6" opacity="1" word-spacing="1.2">1515</text>
<text transform="translate(579,138) scale(0.64,1)" font-size="9.5" text-anchor="middle" font-weight="normal" fill="#111111" stroke="#111111" stroke-width="0.6" opacity="1" word-spacing="1.2">1515</text>
<text transform="translate(428,131) scale(0.77,1)" font-size="9.5" text-anchor="middle" font-weight="normal" fill="#111111" stroke="#111111" stroke-width="0.6" opacity="1" word-spacing="1.2">(obsc)</text>
<text transform="translate(428,138.5) scale(0.68,1)" font-size="9.5" text-anchor="middle" font-weight="normal" fill="#111111" stroke="#111111" stroke-width="0.6" opacity="1" word-spacing="1.2">1206</text>
<text transform="translate(484,131) scale(0.77,1)" font-size="9.5" text-anchor="middle" font-weight="normal" fill="#111111" stroke="#111111" stroke-width="0.6" opacity="1" word-spacing="1.2">(obsc)</text>
<text transform="translate(484,138.5) scale(0.64,1)" font-size="9.5" text-anchor="middle" font-weight="normal" fill="#111111" stroke="#111111" stroke-width="0.6" opacity="1" word-spacing="1.2">1512</text>
<text transform="translate(355.5,131) scale(0.77,1)" font-size="9.5" text-anchor="start" font-weight="normal" fill="#111111" stroke="#111111" stroke-width="0.6" opacity="1" word-spacing="1.2">dp</text>
<circle cx="352.5" cy="134.5" r="1.6" fill="none" stroke="#111111" stroke-width="1.08"/>
<text transform="translate(232.5,445.5) scale(0.6,1)" font-size="9.5" text-anchor="middle" font-weight="normal" fill="#111111" stroke="#111111" stroke-width="0.6" opacity="1" word-spacing="1.2">1212</text>
<text transform="translate(348.7,445.5) scale(0.64,1)" font-size="9.5" text-anchor="middle" font-weight="normal" fill="#111111" stroke="#111111" stroke-width="0.6" opacity="1" word-spacing="1.2">1518</text>
<text transform="translate(453,445) scale(0.77,1)" font-size="9.5" text-anchor="middle" font-weight="normal" fill="#111111" stroke="#111111" stroke-width="0.6" opacity="1" word-spacing="1.2">(obsc)</text>
<text transform="translate(453,454) scale(0.68,1)" font-size="9.5" text-anchor="middle" font-weight="normal" fill="#111111" stroke="#111111" stroke-width="0.6" opacity="1" word-spacing="1.2">2106</text>
<rect x="379.3" y="439.5" width="16.4" height="8.5" fill="none" stroke="#111111" stroke-width="1.2" stroke-dasharray="4 2" rx="0"/>
<text transform="translate(364.2,458.8) scale(0.77,1)" font-size="9.5" text-anchor="start" font-weight="normal" fill="#111111" stroke="#111111" stroke-width="0.6" opacity="1" word-spacing="1.2">Eave Vent</text>
<line x1="319.5" y1="150" x2="319.5" y2="176" stroke="#111111" stroke-width="1.08"/>
<line x1="320.5" y1="178" x2="320.5" y2="205" stroke="#111111" stroke-width="1.08"/>
<line x1="319.5" y1="176" x2="320.5" y2="178" stroke="#111111" stroke-width="1.08"/>
<text transform="translate(334,176) rotate(-90) scale(0.77,1)" font-size="9.5" text-anchor="middle" font-weight="normal" fill="#111111" stroke="#111111" stroke-width="0.6" opacity="1" word-spacing="1.2">S/door Robe</text>
<line x1="308" y1="144" x2="308" y2="211" stroke="#111111" stroke-width="1.08"/>
<line x1="304" y1="149" x2="312" y2="149" stroke="#111111" stroke-width="1.08"/>
<line x1="304.8" y1="145.8" x2="311.2" y2="152.2" stroke="#111111" stroke-width="1.8"/>
<line x1="304" y1="206" x2="312" y2="206" stroke="#111111" stroke-width="1.08"/>
<line x1="304.8" y1="202.8" x2="311.2" y2="209.2" stroke="#111111" stroke-width="1.8"/>
<text transform="translate(300,177.5) rotate(-90)" font-size="10.3" text-anchor="middle" font-weight="normal" fill="#111111" stroke="#111111" stroke-width="0.2" opacity="1" word-spacing="0">1500</text>
<line x1="304.8" y1="206.8" x2="311.2" y2="213.2" stroke="#111111" stroke-width="1.8"/>
<line x1="304" y1="210" x2="312" y2="210" stroke="#111111" stroke-width="1.08"/>
<line x1="308" y1="206" x2="308" y2="216" stroke="#111111" stroke-width="1.08"/>
<text transform="translate(300.5,208) rotate(-90)" font-size="10.3" text-anchor="middle" font-weight="normal" fill="#111111" stroke="#111111" stroke-width="0.2" opacity="1" word-spacing="0">90</text>
<text transform="translate(328,220)" font-size="10.3" text-anchor="middle" font-weight="normal" fill="#111111" stroke="#111111" stroke-width="0.2" opacity="1" word-spacing="0">600</text>
<line x1="315.9" y1="225.6" x2="321.1" y2="220.4" stroke="#111111" stroke-width="1.8"/>
<line x1="335.4" y1="225.6" x2="340.6" y2="220.4" stroke="#111111" stroke-width="1.8"/>
<path d="M304.5,253.0 A33,33 0 0 1 337.5,220.0" fill="none" stroke="#111111" stroke-width="1.2"/>
<rect x="336.2" y="220" width="3.2" height="31.5" fill="#fff" stroke="#111111" stroke-width="1.08" rx="0"/>
<text transform="translate(333.2,241.7) rotate(-90) scale(0.77,1)" font-size="9.5" text-anchor="middle" font-weight="normal" fill="#111111" stroke="#111111" stroke-width="0.6" opacity="1" word-spacing="1.2">820</text>
<rect x="343.6" y="151" width="20.4" height="21" fill="#fff" stroke="#111111" stroke-width="1.2" rx="0"/>
<rect x="346" y="153" width="16" height="16.5" fill="none" stroke="#111111" stroke-width="1.08" rx="2"/>
<text transform="translate(348,166) scale(0.77,1)" font-size="9.5" text-anchor="start" font-weight="normal" fill="#111111" stroke="#111111" stroke-width="0.6" opacity="1" word-spacing="1.2">t</text>
<circle cx="354" cy="163" r="0.8" fill="#111111" stroke="#111111" stroke-width="0.96"/>
<rect x="344" y="183.6" width="27" height="25.4" fill="#fff" stroke="#111111" stroke-width="1.2" stroke-dasharray="3 2" rx="0"/>
<text transform="translate(356,199) scale(0.77,1)" font-size="9.5" text-anchor="middle" font-weight="normal" fill="#111111" stroke="#111111" stroke-width="0.6" opacity="1" word-spacing="1.2">wm</text>
<path d="M371.0,148.0 A30,30 0 0 0 401.0,178.0" fill="none" stroke="#111111" stroke-width="1.2"/>
<line x1="401" y1="148" x2="401" y2="178" stroke="#111111" stroke-width="1.2"/>
<text transform="translate(396,163) rotate(-90) scale(0.77,1)" font-size="8.5" text-anchor="middle" font-weight="normal" fill="#111111" stroke="#111111" stroke-width="0.6" opacity="1" word-spacing="1.2">840</text>
<rect x="343.8" y="220.8" width="18" height="30.5" fill="#fff" stroke="#111111" stroke-width="0.96" rx="0"/>
<text transform="translate(357,233) rotate(-90) scale(0.77,1)" font-size="9.5" text-anchor="middle" font-weight="normal" fill="#111111" stroke="#111111" stroke-width="0.6" opacity="1" word-spacing="1.2">Linen</text>
<path d="M370.0,253.0 A33,33 0 0 1 403.0,220.0" fill="none" stroke="#111111" stroke-width="1.2"/>
<path d="M365.5,220.0 A33,33 0 0 1 398.5,253.0" fill="none" stroke="#111111" stroke-width="1.2"/>
<line x1="403" y1="220" x2="403" y2="251" stroke="#111111" stroke-width="1.2"/>
<text transform="translate(378.5,246) scale(0.77,1)" font-size="9" text-anchor="middle" font-weight="normal" fill="#111111" stroke="#111111" stroke-width="0.6" opacity="1" word-spacing="1.2">720</text>
<text transform="translate(401,239) rotate(-90) scale(0.77,1)" font-size="9" text-anchor="middle" font-weight="normal" fill="#111111" stroke="#111111" stroke-width="0.6" opacity="1" word-spacing="1.2">820</text>
<rect x="420.75" y="150.2" width="13.5" height="5" fill="#fff" stroke="#111111" stroke-width="1.08" rx="0"/>
<ellipse cx="428" cy="164.7" rx="5.4" ry="9.5" fill="#fff" stroke="#111111" stroke-width="1"/>
<text transform="translate(426,168.3) scale(0.77,1)" font-size="9" text-anchor="start" font-weight="normal" fill="#111111" stroke="#111111" stroke-width="0.6" opacity="1" word-spacing="1.2">P</text>
<text transform="translate(432.5,168.3) scale(0.6,1)" font-size="9.5" text-anchor="start" font-weight="bold" fill="#111111" stroke="#111111" stroke-width="0.6" opacity="1" word-spacing="1.2">TRH</text>
<line x1="441.75" y1="169.75" x2="441.75" y2="177.25" stroke="#111111" stroke-width="1.4"/>
<rect x="415" y="222" width="24" height="23" fill="none" stroke="#111111" stroke-width="1.2" stroke-dasharray="3 2" rx="0"/>
<text transform="translate(427,237) scale(0.77,1)" font-size="10" text-anchor="middle" font-weight="normal" fill="#111111" stroke="#111111" stroke-width="0.6" opacity="1" word-spacing="1.2">pa</text>
<path d="M437.0,185.7 A33,33 0 0 1 444.0,207.7" fill="none" stroke="#111111" stroke-width="1.2"/>
<text transform="translate(422.5,197) rotate(-82) scale(0.77,1)" font-size="8.5" text-anchor="middle" font-weight="normal" fill="#111111" stroke="#111111" stroke-width="0.6" opacity="1" word-spacing="1.2">720</text>
<line x1="411" y1="206" x2="416" y2="206" stroke="#111111" stroke-width="1.2"/>
<line x1="438" y1="206" x2="443" y2="206" stroke="#111111" stroke-width="1.2"/>
<rect x="453.3" y="151" width="57.4" height="25.8" fill="#fff" stroke="#111111" stroke-width="1.2" rx="0"/>
<rect x="455.3" y="152.6" width="53.2" height="21.6" fill="#fff" stroke="#111111" stroke-width="1.2" rx="10.8"/>
<text transform="translate(471,168) scale(0.77,1)" font-size="10" text-anchor="start" font-weight="normal" fill="#111111" stroke="#111111" stroke-width="0.6" opacity="1" word-spacing="1.2">b</text>
<circle cx="496.5" cy="163" r="0.9" fill="#111111" stroke="#111111" stroke-width="1.08"/>
<line x1="493" y1="150" x2="493" y2="154" stroke="#111111" stroke-width="1.4"/>
<line x1="497.5" y1="150" x2="497.5" y2="154" stroke="#111111" stroke-width="1.4"/>
<line x1="450.75" y1="186.25" x2="450.75" y2="209.5" stroke="#111111" stroke-width="1.44"/>
<line x1="453" y1="186.25" x2="453" y2="209.5" stroke="#111111" stroke-width="1.44"/>
<text transform="translate(454.5,194.5) scale(0.62,1)" font-size="9.5" text-anchor="start" font-weight="bold" fill="#111111" stroke="#111111" stroke-width="0.6" opacity="1" word-spacing="1.2">TR</text>
<rect x="499.5" y="184.75" width="15.9" height="24" fill="#fff" stroke="#111111" stroke-width="1.2" rx="0"/>
<rect x="501.75" y="189.25" width="10.5" height="17.25" fill="none" stroke="#111111" stroke-width="1.08" rx="0"/>
<text transform="translate(503,201) scale(0.77,1)" font-size="8.5" text-anchor="start" font-weight="normal" fill="#111111" stroke="#111111" stroke-width="0.6" opacity="1" word-spacing="1.2">v</text>
<circle cx="509" cy="199" r="0.7" fill="#111111" stroke="#111111" stroke-width="0.84"/>
<rect x="482" y="217" width="33.4" height="33" fill="none" stroke="#111111" stroke-width="1.32" rx="0"/>
<line x1="483.4" y1="218.4" x2="515" y2="218.4" stroke="#111111" stroke-width="0.96"/>
<line x1="483.4" y1="218.4" x2="483.4" y2="250" stroke="#111111" stroke-width="0.96"/>
<line x1="482" y1="250" x2="515" y2="217" stroke="#111111" stroke-width="0.96"/>
<line x1="515" y1="250" x2="482" y2="217" stroke="#111111" stroke-width="0.96"/>
<text transform="translate(499,225) scale(0.77,1)" font-size="8" text-anchor="middle" font-weight="normal" fill="#111111" stroke="#111111" stroke-width="0.6" opacity="1" word-spacing="1.2">900</text>
<text transform="translate(490,233.5) rotate(-90) scale(0.77,1)" font-size="8" text-anchor="middle" font-weight="normal" fill="#111111" stroke="#111111" stroke-width="0.6" opacity="1" word-spacing="1.2">900</text>
<path d="M448.5,220.5 A29.5,29.5 0 0 1 478.0,250.0" fill="none" stroke="#111111" stroke-width="1.2"/>
<path d="M481.3,217.6 A33.5,33.5 0 0 0 456.5,250" fill="none" stroke="#111111" stroke-width="1.2"/>
<text transform="translate(462,245) rotate(-75) scale(0.77,1)" font-size="8.5" text-anchor="middle" font-weight="normal" fill="#111111" stroke="#111111" stroke-width="0.6" opacity="1" word-spacing="1.2">720</text>
<line x1="538" y1="179" x2="538" y2="216" stroke="#111111" stroke-width="1.08"/>
<line x1="534" y1="184" x2="542" y2="184" stroke="#111111" stroke-width="1.08"/>
<line x1="534.8" y1="180.8" x2="541.2" y2="187.2" stroke="#111111" stroke-width="1.8"/>
<line x1="534" y1="211" x2="542" y2="211" stroke="#111111" stroke-width="1.08"/>
<line x1="534.8" y1="207.8" x2="541.2" y2="214.2" stroke="#111111" stroke-width="1.8"/>
<text transform="translate(531.5,198) rotate(-90)" font-size="10.3" text-anchor="middle" font-weight="normal" fill="#111111" stroke="#111111" stroke-width="0.2" opacity="1" word-spacing="0">750</text>
<line x1="561" y1="237.8" x2="561" y2="257.2" stroke="#111111" stroke-width="1.08"/>
<line x1="561" y1="241.8" x2="561" y2="241.8" stroke="#111111" stroke-width="1.08"/>
<line x1="557.8" y1="238.60000000000002" x2="564.2" y2="245.0" stroke="#111111" stroke-width="1.8"/>
<line x1="561" y1="253.2" x2="561" y2="253.2" stroke="#111111" stroke-width="1.08"/>
<line x1="557.8" y1="250.0" x2="564.2" y2="256.4" stroke="#111111" stroke-width="1.8"/>
<text transform="translate(553,247.5) rotate(-90)" font-size="10.3" text-anchor="middle" font-weight="normal" fill="#111111" stroke="#111111" stroke-width="0.2" opacity="1" word-spacing="0">285</text>
<line x1="509.5" y1="253.2" x2="567" y2="253.2" stroke="#111111" stroke-width="1.08" stroke-dasharray="4 2"/>
<line x1="525" y1="241.8" x2="567" y2="241.8" stroke="#111111" stroke-width="1.08" stroke-dasharray="4 2"/>
<line x1="249" y1="272.5" x2="283" y2="272.5" stroke="#111111" stroke-width="1.08"/>
<line x1="254" y1="268.5" x2="254" y2="276.5" stroke="#111111" stroke-width="1.08"/>
<line x1="250.8" y1="275.7" x2="257.2" y2="269.3" stroke="#111111" stroke-width="1.8"/>
<line x1="278" y1="268.5" x2="278" y2="276.5" stroke="#111111" stroke-width="1.08"/>
<line x1="274.8" y1="275.7" x2="281.2" y2="269.3" stroke="#111111" stroke-width="1.8"/>
<text transform="translate(266.0,268.5)" font-size="10.3" text-anchor="middle" font-weight="normal" fill="#111111" stroke="#111111" stroke-width="0.2" opacity="1" word-spacing="0">600</text>
<text transform="translate(298,269.5) scale(0.77,1)" font-size="9.5" text-anchor="start" font-weight="normal" fill="#111111" stroke="#111111" stroke-width="0.6" opacity="1" word-spacing="1.2">(Planked)</text>
<text transform="translate(297,284) scale(0.77,1)" font-size="9.5" text-anchor="start" font-weight="normal" fill="#111111" stroke="#111111" stroke-width="0.6" opacity="1" word-spacing="1.2">4 x shelves</text>
<polyline points="335,281 346,281 346,246" fill="none" stroke="#111111" stroke-width="1.08"/>
<polygon points="346.0,243.0 348.0,252.0 344.0,252.0" fill="#111111"/>
<text transform="translate(357,263) scale(0.77,1)" font-size="9.5" text-anchor="start" font-weight="normal" fill="#111111" stroke="#111111" stroke-width="0.6" opacity="1" word-spacing="1.2">Ceiling Control Joint</text>
<circle cx="373.6" cy="272.4" r="4.6" fill="none" stroke="#111111" stroke-width="1.08"/>
<text transform="translate(373.6,275.2) scale(0.77,1)" font-size="8.5" text-anchor="middle" font-weight="normal" fill="#111111" stroke="#111111" stroke-width="0.6" opacity="1" word-spacing="1.2">s</text>
<polyline points="379,267 379,283.6 366,283.6" fill="none" stroke="#111111" stroke-width="1.08"/>
<polygon points="355.0,283.6 366.0,281.4 366.0,285.8" fill="#111111"/>
<line x1="354.4" y1="255" x2="354.4" y2="290" stroke="#111111" stroke-width="1.2" stroke-dasharray="4 2"/>
<text transform="translate(291.6,302.8) scale(0.715,1)" font-size="9.5" text-anchor="start" font-weight="normal" fill="#111111" stroke="#111111" stroke-width="0.6" opacity="1" word-spacing="1.2">450mm wide x 600mm deep</text>
<text transform="translate(291.6,315.2) scale(0.725,1)" font-size="9.5" text-anchor="start" font-weight="normal" fill="#111111" stroke="#111111" stroke-width="0.6" opacity="1" word-spacing="1.2">x 2400mm high lam. pantry</text>
<text transform="translate(291.6,327.2) scale(0.75,1)" font-size="9.5" text-anchor="start" font-weight="normal" fill="#111111" stroke="#111111" stroke-width="0.6" opacity="1" word-spacing="1.2">with 4 x shelves</text>
<polyline points="322.5,328 322.5,336 284,336" fill="none" stroke="#111111" stroke-width="1.08"/>
<polygon points="273.0,336.0 284.0,333.8 284.0,338.2" fill="#111111"/>
<text transform="translate(429,273.4) scale(0.77,1)" font-size="9.5" text-anchor="start" font-weight="normal" fill="#111111" stroke="#111111" stroke-width="0.6" opacity="1" word-spacing="1.2">Shelf &amp; rail</text>
<line x1="471.6" y1="271" x2="497" y2="271" stroke="#111111" stroke-width="1.08"/>
<line x1="476.6" y1="271" x2="476.6" y2="271" stroke="#111111" stroke-width="1.08"/>
<line x1="473.40000000000003" y1="274.2" x2="479.8" y2="267.8" stroke="#111111" stroke-width="1.8"/>
<line x1="492" y1="271" x2="492" y2="271" stroke="#111111" stroke-width="1.08"/>
<line x1="488.8" y1="274.2" x2="495.2" y2="267.8" stroke="#111111" stroke-width="1.8"/>
<text transform="translate(484,264)" font-size="10.3" text-anchor="middle" font-weight="normal" fill="#111111" stroke="#111111" stroke-width="0.2" opacity="1" word-spacing="0">384</text>
<circle cx="497.6" cy="277" r="4.8" fill="none" stroke="#111111" stroke-width="1.08"/>
<text transform="translate(497.6,279.8) scale(0.77,1)" font-size="8.5" text-anchor="middle" font-weight="normal" fill="#111111" stroke="#111111" stroke-width="0.6" opacity="1" word-spacing="1.2">s</text>
<line x1="476.6" y1="271" x2="476.6" y2="348" stroke="#111111" stroke-width="1.08" stroke-dasharray="4 2"/>
<line x1="492" y1="271" x2="492" y2="294" stroke="#111111" stroke-width="1.08" stroke-dasharray="4 2"/>
<line x1="506" y1="255" x2="506" y2="304" stroke="#111111" stroke-width="1.08" stroke-dasharray="4 2"/>
<line x1="502.5" y1="304.6" x2="551.7" y2="304.6" stroke="#111111" stroke-width="1.08"/>
<line x1="505.5" y1="304.6" x2="505.5" y2="304.6" stroke="#111111" stroke-width="1.08"/>
<line x1="502.3" y1="307.8" x2="508.7" y2="301.40000000000003" stroke="#111111" stroke-width="1.8"/>
<line x1="548.7" y1="304.6" x2="548.7" y2="304.6" stroke="#111111" stroke-width="1.08"/>
<line x1="545.5" y1="307.8" x2="551.9000000000001" y2="301.40000000000003" stroke="#111111" stroke-width="1.8"/>
<text transform="translate(527,297)" font-size="10.3" text-anchor="middle" font-weight="normal" fill="#111111" stroke="#111111" stroke-width="0.2" opacity="1" word-spacing="0">1132</text>
<path d="M382.3,293.7 A30,30 0 0 0 412.3,323.7" fill="none" stroke="#111111" stroke-width="1.2"/>
<line x1="380" y1="293.7" x2="412" y2="293.7" stroke="#111111" stroke-width="1.08"/>
<rect x="410.3" y="293.7" width="2.2" height="29.5" fill="#fff" stroke="#111111" stroke-width="0.96" rx="0"/>
<text transform="translate(409,308) rotate(-90) scale(0.77,1)" font-size="9" text-anchor="middle" font-weight="normal" fill="#111111" stroke="#111111" stroke-width="0.6" opacity="1" word-spacing="1.2">820</text>
<text transform="translate(429.8,305.5) rotate(-90)" font-size="9.5" text-anchor="middle" font-weight="normal" fill="#111111" stroke="#111111" stroke-width="0.2" opacity="1" word-spacing="0">600</text>
<line x1="437.5" y1="291" x2="437.5" y2="317.75" stroke="#111111" stroke-width="1.08"/>
<line x1="437.5" y1="294" x2="437.5" y2="294" stroke="#111111" stroke-width="1.08"/>
<line x1="434.3" y1="290.8" x2="440.7" y2="297.2" stroke="#111111" stroke-width="1.8"/>
<line x1="437.5" y1="314.75" x2="437.5" y2="314.75" stroke="#111111" stroke-width="1.08"/>
<line x1="434.3" y1="311.55" x2="440.7" y2="317.95" stroke="#111111" stroke-width="1.8"/>
<line x1="417.7" y1="305" x2="486" y2="305" stroke="#111111" stroke-width="1.08" stroke-dasharray="4 2"/>
<line x1="459" y1="310.5" x2="494" y2="310.5" stroke="#111111" stroke-width="1.08"/>
<line x1="465" y1="310.5" x2="465" y2="310.5" stroke="#111111" stroke-width="1.08"/>
<line x1="461.8" y1="313.7" x2="468.2" y2="307.3" stroke="#111111" stroke-width="1.8"/>
<line x1="488" y1="310.5" x2="488" y2="310.5" stroke="#111111" stroke-width="1.08"/>
<line x1="484.8" y1="313.7" x2="491.2" y2="307.3" stroke="#111111" stroke-width="1.8"/>
<text transform="translate(476.5,304)" font-size="10.3" text-anchor="middle" font-weight="normal" fill="#111111" stroke="#111111" stroke-width="0.2" opacity="1" word-spacing="0">600</text>
<line x1="448.6" y1="275" x2="448.6" y2="296" stroke="#111111" stroke-width="1.08"/>
<polygon points="448.6,304.8 446.6,294.8 450.6,294.8" fill="#111111"/>
<text transform="translate(431.5,344.5) scale(0.77,1)" font-size="9.5" text-anchor="middle" font-weight="normal" fill="#111111" stroke="#111111" stroke-width="0.6" opacity="1" word-spacing="1.2">720</text>
<path d="M417.0,318.5 A29,29 0 0 1 446.0,347.5" fill="none" stroke="#111111" stroke-width="1.2"/>
<line x1="445.7" y1="343" x2="445.7" y2="347.5" stroke="#111111" stroke-width="1.2"/>
<line x1="465.5" y1="310.5" x2="465.5" y2="348" stroke="#111111" stroke-width="1.2"/>
<line x1="417.7" y1="316.6" x2="437.5" y2="316.6" stroke="#111111" stroke-width="1.08"/>
<line x1="176" y1="292.5" x2="215" y2="292.5" stroke="#111111" stroke-width="1.08"/>
<line x1="180" y1="288.5" x2="180" y2="296.5" stroke="#111111" stroke-width="1.08"/>
<line x1="176.8" y1="295.7" x2="183.2" y2="289.3" stroke="#111111" stroke-width="1.8"/>
<line x1="211" y1="288.5" x2="211" y2="296.5" stroke="#111111" stroke-width="1.08"/>
<line x1="207.8" y1="295.7" x2="214.2" y2="289.3" stroke="#111111" stroke-width="1.8"/>
<text transform="translate(196,306)" font-size="10.3" text-anchor="middle" font-weight="normal" fill="#111111" stroke="#111111" stroke-width="0.2" opacity="1" word-spacing="0">800</text>
<line x1="231.8" y1="289" x2="231.8" y2="330.5" stroke="#111111" stroke-width="1.08"/>
<line x1="227.8" y1="292" x2="235.8" y2="292" stroke="#111111" stroke-width="1.08"/>
<line x1="228.60000000000002" y1="288.8" x2="235.0" y2="295.2" stroke="#111111" stroke-width="1.8"/>
<line x1="227.8" y1="327.5" x2="235.8" y2="327.5" stroke="#111111" stroke-width="1.08"/>
<line x1="228.60000000000002" y1="324.3" x2="235.0" y2="330.7" stroke="#111111" stroke-width="1.8"/>
<text transform="translate(224.8,310.7) rotate(-90)" font-size="10.3" text-anchor="middle" font-weight="normal" fill="#111111" stroke="#111111" stroke-width="0.2" opacity="1" word-spacing="0">900</text>
<text transform="translate(239.3,311) rotate(-90) scale(0.54,1)" font-size="10.5" text-anchor="middle" font-weight="normal" fill="#111111" stroke="#111111" stroke-width="0.6" opacity="1" word-spacing="1.2">1820H</text>
<polyline points="181,426 181,309 211,309 211,402.5 254.5,402.5" fill="none" stroke="#111111" stroke-width="1.32"/>
<line x1="254.5" y1="294" x2="254.5" y2="426" stroke="#111111" stroke-width="1.32"/>
<line x1="188" y1="309" x2="188" y2="426" stroke="#111111" stroke-width="1.08" stroke-dasharray="4 2"/>
<line x1="188" y1="330" x2="211" y2="309" stroke="#111111" stroke-width="1.08" stroke-dasharray="4 2"/>
<rect x="190" y="333" width="21.2" height="31" fill="#fff" stroke="#111111" stroke-width="1.2" rx="2"/>
<rect x="192.5" y="335.5" width="16.5" height="12.5" fill="none" stroke="#111111" stroke-width="1.08" rx="2"/>
<rect x="192.5" y="350" width="16.5" height="12.5" fill="none" stroke="#111111" stroke-width="1.08" rx="2"/>
<circle cx="201" cy="341.7" r="1.1" fill="none" stroke="#111111" stroke-width="0.96"/>
<circle cx="201" cy="356.3" r="1.1" fill="none" stroke="#111111" stroke-width="0.96"/>
<rect x="188" y="365" width="23" height="23" fill="none" stroke="#111111" stroke-width="1.08" stroke-dasharray="4 2" rx="0"/>
<line x1="188" y1="365" x2="211" y2="388" stroke="#111111" stroke-width="0.96" stroke-dasharray="4 2"/>
<line x1="211" y1="365" x2="188" y2="388" stroke="#111111" stroke-width="0.96" stroke-dasharray="4 2"/>
<text transform="translate(223.75,375.75) scale(0.77,1)" font-size="10" text-anchor="middle" font-weight="normal" fill="#111111" stroke="#111111" stroke-width="0.6" opacity="1" word-spacing="1.2">dw by</text>
<text transform="translate(223.75,383.3) scale(0.77,1)" font-size="10" text-anchor="middle" font-weight="normal" fill="#111111" stroke="#111111" stroke-width="0.6" opacity="1" word-spacing="1.2">builder</text>
<line x1="224.5" y1="402.5" x2="224.5" y2="426" stroke="#111111" stroke-width="1.08" stroke-dasharray="4 2"/>
<line x1="241.75" y1="402.5" x2="241.75" y2="426" stroke="#111111" stroke-width="1.08" stroke-dasharray="4 2"/>
<text transform="translate(233,420) scale(0.77,1)" font-size="10" text-anchor="middle" font-weight="normal" fill="#111111" stroke="#111111" stroke-width="0.6" opacity="1" word-spacing="1.2">drws</text>
<rect x="247" y="296" width="28.5" height="29.5" fill="none" stroke="#111111" stroke-width="1.08" stroke-dasharray="4 2" rx="0"/>
<line x1="265.5" y1="297" x2="254.5" y2="327.5" stroke="#111111" stroke-width="1.08" stroke-dasharray="4 2"/>
<text transform="translate(262,316) scale(0.77,1)" font-size="9.5" text-anchor="start" font-weight="normal" fill="#111111" stroke="#111111" stroke-width="0.6" opacity="1" word-spacing="1.2">f</text>
<path d="M257.5,330.0h1 M260.8,330.0h1 M264.1,330.0h1 M267.4,330.0h1 M270.7,330.0h1 M274.0,330.0h1 M259.1,332.6h1 M262.4,332.6h1 M265.8,332.6h1 M269.1,332.6h1 M272.4,332.6h1 M275.7,332.6h1 M257.5,335.2h1 M260.8,335.2h1 M264.1,335.2h1 M267.4,335.2h1 M270.7,335.2h1 M274.0,335.2h1 M259.1,337.8h1 M262.4,337.8h1 M265.8,337.8h1 M269.1,337.8h1 M272.4,337.8h1 M275.7,337.8h1 M257.5,340.4h1 M260.8,340.4h1 M264.1,340.4h1 M267.4,340.4h1 M270.7,340.4h1 M274.0,340.4h1 M259.1,343.0h1 M262.4,343.0h1 M265.8,343.0h1 M269.1,343.0h1 M272.4,343.0h1 M275.7,343.0h1 M257.5,345.6h1 M260.8,345.6h1 M264.1,345.6h1 M267.4,345.6h1 M270.7,345.6h1 M274.0,345.6h1 M259.1,348.2h1 M262.4,348.2h1 M265.8,348.2h1 M269.1,348.2h1 M272.4,348.2h1 M275.7,348.2h1 M257.5,350.8h1 M260.8,350.8h1 M264.1,350.8h1 M267.4,350.8h1 M270.7,350.8h1 M274.0,350.8h1 M259.1,353.4h1 M262.4,353.4h1 M265.8,353.4h1 M269.1,353.4h1 M272.4,353.4h1 M275.7,353.4h1 M257.5,356.0h1 M260.8,356.0h1 M264.1,356.0h1 M267.4,356.0h1 M270.7,356.0h1 M274.0,356.0h1 M259.1,358.6h1 M262.4,358.6h1 M265.8,358.6h1 M269.1,358.6h1 M272.4,358.6h1 M275.7,358.6h1 M257.5,361.2h1 M260.8,361.2h1 M264.1,361.2h1 M267.4,361.2h1 M270.7,361.2h1 M274.0,361.2h1 M259.1,363.8h1 M262.4,363.8h1 M265.8,363.8h1 M269.1,363.8h1 M272.4,363.8h1 M275.7,363.8h1 M257.5,366.4h1 M260.8,366.4h1 M264.1,366.4h1 M267.4,366.4h1 M270.7,366.4h1 M274.0,366.4h1 M259.1,369.0h1 M262.4,369.0h1 M265.8,369.0h1 M269.1,369.0h1 M272.4,369.0h1 M275.7,369.0h1 M257.5,371.6h1 M260.8,371.6h1 M264.1,371.6h1 M267.4,371.6h1 M270.7,371.6h1 M274.0,371.6h1 M259.1,374.2h1 M262.4,374.2h1 M265.8,374.2h1 M269.1,374.2h1 M272.4,374.2h1 M275.7,374.2h1 M257.5,376.8h1 M260.8,376.8h1 M264.1,376.8h1 M267.4,376.8h1 M270.7,376.8h1 M274.0,376.8h1 M259.1,379.4h1 M262.4,379.4h1 M265.8,379.4h1 M269.1,379.4h1 M272.4,379.4h1 M275.7,379.4h1 M257.5,382.0h1 M260.8,382.0h1 M264.1,382.0h1 M267.4,382.0h1 M270.7,382.0h1 M274.0,382.0h1 M259.1,384.6h1 M262.4,384.6h1 M265.8,384.6h1 M269.1,384.6h1 M272.4,384.6h1 M275.7,384.6h1 M257.5,387.2h1 M260.8,387.2h1 M264.1,387.2h1 M267.4,387.2h1 M270.7,387.2h1 M274.0,387.2h1 M259.1,389.8h1 M262.4,389.8h1 M265.8,389.8h1 M269.1,389.8h1 M272.4,389.8h1 M275.7,389.8h1 M257.5,392.4h1 M260.8,392.4h1 M264.1,392.4h1 M267.4,392.4h1 M270.7,392.4h1 M274.0,392.4h1 M259.1,395.0h1 M262.4,395.0h1 M265.8,395.0h1 M269.1,395.0h1 M272.4,395.0h1 M275.7,395.0h1 M257.5,397.6h1 M260.8,397.6h1 M264.1,397.6h1 M267.4,397.6h1 M270.7,397.6h1 M274.0,397.6h1 M259.1,400.2h1 M262.4,400.2h1 M265.8,400.2h1 M269.1,400.2h1 M272.4,400.2h1 M275.7,400.2h1 M257.5,402.8h1 M260.8,402.8h1 M264.1,402.8h1 M267.4,402.8h1 M270.7,402.8h1 M274.0,402.8h1 M259.1,405.4h1 M262.4,405.4h1 M265.8,405.4h1 M269.1,405.4h1 M272.4,405.4h1 M275.7,405.4h1 M257.5,408.0h1 M260.8,408.0h1 M264.1,408.0h1 M267.4,408.0h1 M270.7,408.0h1 M274.0,408.0h1 M259.1,410.6h1 M262.4,410.6h1 M265.8,410.6h1 M269.1,410.6h1 M272.4,410.6h1 M275.7,410.6h1 M257.5,413.2h1 M260.8,413.2h1 M264.1,413.2h1 M267.4,413.2h1 M270.7,413.2h1 M274.0,413.2h1 M259.1,415.8h1 M262.4,415.8h1 M265.8,415.8h1 M269.1,415.8h1 M272.4,415.8h1 M275.7,415.8h1 M257.5,418.4h1 M260.8,418.4h1 M264.1,418.4h1 M267.4,418.4h1 M270.7,418.4h1 M274.0,418.4h1 M259.1,421.0h1 M262.4,421.0h1 M265.8,421.0h1 M269.1,421.0h1 M272.4,421.0h1 M275.7,421.0h1 M257.5,423.6h1 M260.8,423.6h1 M264.1,423.6h1 M267.4,423.6h1 M270.7,423.6h1 M274.0,423.6h1" fill="none" stroke="#222" stroke-width="1.2"/>
<line x1="255" y1="328.7" x2="277" y2="328.7" stroke="#111111" stroke-width="1.08"/>
<line x1="255" y1="345.2" x2="277" y2="345.2" stroke="#111111" stroke-width="1.08"/>
<text transform="translate(266,339) scale(0.77,1)" font-size="8" text-anchor="middle" font-weight="normal" fill="#111111" stroke="#111111" stroke-width="0.6" opacity="1" word-spacing="1.2">p</text>
<rect x="256" y="364" width="20" height="21" fill="#fff" stroke="#111111" stroke-width="1.32" rx="0"/>
<circle cx="261.3" cy="369.3" r="3.2" fill="none" stroke="#111111" stroke-width="1.08"/>
<circle cx="261.3" cy="369.3" r="1.3" fill="none" stroke="#111111" stroke-width="0.96"/>
<circle cx="270.7" cy="369.3" r="3.2" fill="none" stroke="#111111" stroke-width="1.08"/>
<circle cx="270.7" cy="369.3" r="1.3" fill="none" stroke="#111111" stroke-width="0.96"/>
<circle cx="261.3" cy="379.7" r="3.2" fill="none" stroke="#111111" stroke-width="1.08"/>
<circle cx="261.3" cy="379.7" r="1.3" fill="none" stroke="#111111" stroke-width="0.96"/>
<circle cx="270.7" cy="379.7" r="3.2" fill="none" stroke="#111111" stroke-width="1.08"/>
<circle cx="270.7" cy="379.7" r="1.3" fill="none" stroke="#111111" stroke-width="0.96"/>
<text transform="translate(254,375.5) rotate(-90) scale(0.77,1)" font-size="9.5" text-anchor="middle" font-weight="normal" fill="#111111" stroke="#111111" stroke-width="0.6" opacity="1" word-spacing="1.2">ubo</text>
<line x1="267.5" y1="400" x2="267.5" y2="479" stroke="#111111" stroke-width="1.08"/>
<polygon points="267.5,392.0 269.7,403.0 265.3,403.0" fill="#111111"/>
<text transform="translate(251,489.5) scale(0.77,1)" font-size="9.5" text-anchor="start" font-weight="normal" fill="#111111" stroke="#111111" stroke-width="0.6" opacity="1" word-spacing="1.2">800mm high o/head cup'ds with</text>
<text transform="translate(251,502) scale(0.77,1)" font-size="9.5" text-anchor="start" font-weight="normal" fill="#111111" stroke="#111111" stroke-width="0.6" opacity="1" word-spacing="1.2">600mm wide canopy r/hood</text>
<g opacity="0.3">
<line x1="253" y1="507.7" x2="345" y2="507.7" stroke="#111111" stroke-width="0.96" stroke-dasharray="1.2 2.2 2 1.6 0.8 2.6"/>
</g>
<text transform="translate(62,323) scale(0.77,1)" font-size="9.5" text-anchor="start" font-weight="normal" fill="#111111" stroke="#111111" stroke-width="0.6" opacity="1" word-spacing="1.2">Microwave provision</text>
<text transform="translate(62,335) scale(0.77,1)" font-size="9.5" text-anchor="start" font-weight="normal" fill="#111111" stroke="#111111" stroke-width="0.6" opacity="1" word-spacing="1.2">with pot drawer below</text>
<line x1="133" y1="322.5" x2="187" y2="322.5" stroke="#111111" stroke-width="1.08"/>
<polygon points="196.0,322.5 185.0,324.7 185.0,320.3" fill="#111111"/>
<text transform="translate(90,406) scale(0.77,1)" font-size="9.5" text-anchor="start" font-weight="normal" fill="#111111" stroke="#111111" stroke-width="0.6" opacity="1" word-spacing="1.2">200mm wide</text>
<text transform="translate(90,419) scale(0.77,1)" font-size="9.5" text-anchor="start" font-weight="normal" fill="#111111" stroke="#111111" stroke-width="0.6" opacity="1" word-spacing="1.2">o/hang to b/bar</text>
<line x1="133" y1="404" x2="176" y2="404" stroke="#111111" stroke-width="1.08"/>
<polygon points="186.0,404.0 175.0,406.2 175.0,401.8" fill="#111111"/>
<line x1="187.5" y1="412" x2="187.5" y2="506" stroke="#111111" stroke-width="1.2"/>
<polygon points="163.7,476 187.5,453 187.5,499" fill="#111111"/>
<circle cx="187.5" cy="476" r="15.8" fill="#fff" stroke="#111111" stroke-width="1.32"/>
<line x1="171.7" y1="476" x2="203.3" y2="476" stroke="#111111" stroke-width="1.2"/>
<text transform="translate(187.3,472.6)" font-size="12.3" text-anchor="middle" font-weight="normal" fill="#111111" stroke="#111111" stroke-width="0.2" opacity="1" word-spacing="0">A</text>
<line x1="184" y1="485" x2="190.5" y2="485" stroke="#111111" stroke-width="1.2"/>
<line x1="406.2" y1="344" x2="406.2" y2="366" stroke="#111111" stroke-width="1.08"/>
<line x1="403.0" y1="348.3" x2="409.4" y2="354.7" stroke="#111111" stroke-width="1.8"/>
<line x1="403.0" y1="356.3" x2="409.4" y2="362.7" stroke="#111111" stroke-width="1.8"/>
<line x1="406.2" y1="390" x2="406.2" y2="431" stroke="#111111" stroke-width="1.08"/>
<line x1="403.0" y1="392.8" x2="409.4" y2="399.2" stroke="#111111" stroke-width="1.8"/>
<line x1="403.0" y1="422.8" x2="409.4" y2="429.2" stroke="#111111" stroke-width="1.8"/>
<text transform="translate(397.5,357.5) rotate(-90)" font-size="10.3" text-anchor="middle" font-weight="normal" fill="#111111" stroke="#111111" stroke-width="0.2" opacity="1" word-spacing="0">150</text>
<text transform="translate(397.5,413) rotate(-90)" font-size="10.3" text-anchor="middle" font-weight="normal" fill="#111111" stroke="#111111" stroke-width="0.2" opacity="1" word-spacing="0">750</text>
<line x1="422" y1="356.2" x2="446" y2="356.2" stroke="#111111" stroke-width="1.8"/>
<text transform="translate(422.5,364.5) scale(0.62,1)" font-size="9.5" text-anchor="start" font-weight="bold" fill="#111111" stroke="#111111" stroke-width="0.6" opacity="1" word-spacing="1.2">TR</text>
<text transform="translate(437,369) rotate(10) scale(0.77,1)" font-size="8.5" text-anchor="middle" font-weight="normal" fill="#111111" stroke="#111111" stroke-width="0.6" opacity="1" word-spacing="1.2">720</text>
<path d="M449.0,358.0 A31,31 0 0 1 418.0,389.0" fill="none" stroke="#111111" stroke-width="1.2"/>
<line x1="449" y1="353" x2="449" y2="376" stroke="#111111" stroke-width="1.44"/>
<line x1="451" y1="353" x2="451" y2="375" stroke="#111111" stroke-width="0.96"/>
<line x1="450" y1="376" x2="466" y2="391" stroke="#111111" stroke-width="1.44"/>
<line x1="436" y1="393" x2="450" y2="376" stroke="#111111" stroke-width="1.2"/>
<rect x="466" y="390" width="22" height="3.5" fill="#fff" stroke="#111111" stroke-width="1.08" rx="0"/>
<line x1="450" y1="376" x2="488" y2="356" stroke="#111111" stroke-width="0.96"/>
<line x1="466" y1="391" x2="476" y2="356" stroke="#111111" stroke-width="0.96"/>
<text transform="translate(456,364) rotate(-90) scale(0.77,1)" font-size="8" text-anchor="middle" font-weight="normal" fill="#111111" stroke="#111111" stroke-width="0.6" opacity="1" word-spacing="1.2">1000</text>
<text transform="translate(477,388) scale(0.77,1)" font-size="8" text-anchor="middle" font-weight="normal" fill="#111111" stroke="#111111" stroke-width="0.6" opacity="1" word-spacing="1.2">1000</text>
<text transform="translate(484,375) scale(0.77,1)" font-size="8.5" text-anchor="middle" font-weight="normal" fill="#111111" stroke="#111111" stroke-width="0.6" opacity="1" word-spacing="1.2">shr</text>
<rect x="482" y="403" width="6.5" height="12" fill="#fff" stroke="#111111" stroke-width="1.08" rx="0"/>
<ellipse cx="471.5" cy="409" rx="9.5" ry="7" fill="#fff" stroke="#111111" stroke-width="1"/>
<text transform="translate(470.5,412) scale(0.77,1)" font-size="9.5" text-anchor="start" font-weight="normal" fill="#111111" stroke="#111111" stroke-width="0.6" opacity="1" word-spacing="1.2">P</text>
<text transform="translate(462.5,423) scale(0.6,1)" font-size="9.5" text-anchor="start" font-weight="bold" fill="#111111" stroke="#111111" stroke-width="0.6" opacity="1" word-spacing="1.2">TRH</text>
<rect x="419.3" y="400.3" width="17.7" height="21.4" fill="#fff" stroke="#111111" stroke-width="1.2" rx="0"/>
<rect x="422.7" y="402.7" width="12" height="16.6" fill="none" stroke="#111111" stroke-width="1.08" rx="2"/>
<text transform="translate(425.5,413.2) scale(0.77,1)" font-size="8.5" text-anchor="start" font-weight="normal" fill="#111111" stroke="#111111" stroke-width="0.6" opacity="1" word-spacing="1.2">v</text>
<circle cx="424.6" cy="411" r="0.7" fill="#111111" stroke="#111111" stroke-width="0.84"/>
<rect x="401.7" y="436.2" width="18.5" height="15.3" fill="none" stroke="#111111" stroke-width="1.2" rx="0"/>
<line x1="401.7" y1="436.2" x2="420.2" y2="451.5" stroke="#111111" stroke-width="0.96"/>
<line x1="420.2" y1="436.2" x2="401.7" y2="451.5" stroke="#111111" stroke-width="0.96"/>
<text transform="translate(405,460) scale(0.77,1)" font-size="10" text-anchor="start" font-weight="normal" fill="#111111" stroke="#111111" stroke-width="0.6" opacity="1" word-spacing="1.2">hws</text>
<line x1="420" y1="452.5" x2="437" y2="452.5" stroke="#111111" stroke-width="0"/>
<text transform="translate(627.5,120) scale(0.77,1)" font-size="9.5" text-anchor="start" font-weight="normal" fill="#111111" stroke="#111111" stroke-width="0.6" opacity="1" word-spacing="1.2">Eave Vent</text>
<rect x="635" y="128" width="17" height="8" fill="none" stroke="#111111" stroke-width="1.2" stroke-dasharray="4 2" rx="0"/>
<text transform="translate(666,133) scale(0.77,1)" font-size="9.5" text-anchor="start" font-weight="normal" fill="#111111" stroke="#111111" stroke-width="0.6" opacity="1" word-spacing="1.2">PCD</text>
<path d="M669,137.5 h7 v3 h-4 z" fill="none" stroke="#111111" stroke-width="1.08"/>
<text transform="translate(689.5,132.5) scale(0.77,1)" font-size="9.5" text-anchor="start" font-weight="normal" fill="#111111" stroke="#111111" stroke-width="0.6" opacity="1" word-spacing="1.2">tap</text>
<line x1="705.5" y1="128.5" x2="705.5" y2="140.5" stroke="#111111" stroke-width="1.08"/>
<line x1="702" y1="132.5" x2="709" y2="132.5" stroke="#111111" stroke-width="1.08"/>
<rect x="716" y="131" width="20" height="9.5" fill="#fff" stroke="#111111" stroke-width="1.2" rx="0"/>
<polygon points="716,140.5 736,131 736,140.5" fill="#111111"/>
<text transform="translate(704,107) scale(0.77,1)" font-size="9.5" text-anchor="start" font-weight="normal" fill="#111111" stroke="#111111" stroke-width="0.6" opacity="1" word-spacing="1.2">Meter box with</text>
<text transform="translate(705,119.5) scale(0.77,1)" font-size="9.5" text-anchor="start" font-weight="normal" fill="#111111" stroke="#111111" stroke-width="0.6" opacity="1" word-spacing="1.2">gas box below</text>
<text transform="translate(746,131) scale(0.77,1)" font-size="9.5" text-anchor="start" font-weight="normal" fill="#111111" stroke="#111111" stroke-width="0.6" opacity="1" word-spacing="1.2">dp</text>
<circle cx="750" cy="136" r="1.6" fill="none" stroke="#111111" stroke-width="1.08"/>
<text transform="translate(768.7,217.5) rotate(-90) scale(0.6,1)" font-size="9.5" text-anchor="middle" font-weight="normal" fill="#111111" stroke="#111111" stroke-width="0.6" opacity="1" word-spacing="1.2">2118</text>
<line x1="565.8" y1="273.3" x2="630" y2="273.3" stroke="#111111" stroke-width="1.2"/>
<line x1="630" y1="273.3" x2="630" y2="275.5" stroke="#111111" stroke-width="1.2"/>
<line x1="630" y1="275.5" x2="633.5" y2="275.5" stroke="#111111" stroke-width="1.2"/>
<text transform="translate(585.5,288) scale(0.77,1)" font-size="9.5" text-anchor="start" font-weight="normal" fill="#111111" stroke="#111111" stroke-width="0.6" opacity="1" word-spacing="1.2">S/door Robe</text>
<text transform="translate(573.6,283.5) rotate(-90)" font-size="10.3" text-anchor="middle" font-weight="normal" fill="#111111" stroke="#111111" stroke-width="0.2" opacity="1" word-spacing="0">600</text>
<line x1="579.7" y1="269.9" x2="585.3" y2="275.5" stroke="#111111" stroke-width="1.8"/>
<line x1="579.7" y1="291.5" x2="585.3" y2="297.1" stroke="#111111" stroke-width="1.8"/>
<line x1="582.5" y1="267.7" x2="582.5" y2="300.7" stroke="#111111" stroke-width="1.08"/>
<line x1="509" y1="255" x2="533" y2="234" stroke="#111111" stroke-width="1.44"/>
<path d="M533,234 A32.2,32.2 0 0 1 532,278" fill="none" stroke="#111111" stroke-width="1.2"/>
<line x1="509" y1="255" x2="532" y2="278" stroke="#111111" stroke-width="1.2"/>
<text transform="translate(528,254.5) rotate(-50) scale(0.77,1)" font-size="9" text-anchor="middle" font-weight="normal" fill="#111111" stroke="#111111" stroke-width="0.6" opacity="1" word-spacing="1.2">820</text>
<line x1="555" y1="297.5" x2="555" y2="306" stroke="#111111" stroke-width="1.32"/>
<line x1="555" y1="306" x2="555" y2="338.5" stroke="#111111" stroke-width="1.2" stroke-dasharray="4 2"/>
<line x1="548" y1="306" x2="548" y2="338.5" stroke="#111111" stroke-width="1.2" stroke-dasharray="4 2"/>
<rect x="548" y="338.5" width="7.2" height="8" fill="none" stroke="#111111" stroke-width="1.32" rx="0"/>
<text transform="translate(564.6,322.2) rotate(-90) scale(0.68,1)" font-size="9.5" text-anchor="middle" font-weight="normal" fill="#111111" stroke="#111111" stroke-width="0.6" opacity="1" word-spacing="1.2">2400x1000</text>
<circle cx="636" cy="325" r="4.6" fill="none" stroke="#111111" stroke-width="1.08"/>
<text transform="translate(636,327.8) scale(0.77,1)" font-size="8.5" text-anchor="middle" font-weight="normal" fill="#111111" stroke="#111111" stroke-width="0.6" opacity="1" word-spacing="1.2">s</text>
<line x1="498.4" y1="315.3" x2="498.4" y2="346" stroke="#111111" stroke-width="1.32"/>
<path d="M498.4,315.5 A31.5,31.5 0 0 1 529.9,347.0" fill="none" stroke="#111111" stroke-width="1.2"/>
<text transform="translate(507.3,335.5) rotate(-90) scale(0.77,1)" font-size="9.5" text-anchor="middle" font-weight="normal" fill="#111111" stroke="#111111" stroke-width="0.6" opacity="1" word-spacing="1.2">820</text>
<rect x="637" y="264" width="2" height="32" fill="none" stroke="#111111" stroke-width="1.08" rx="0"/>
<path d="M638.0,264.0 A32,32 0 0 1 670.0,296.0" fill="none" stroke="#111111" stroke-width="1.2"/>
<text transform="translate(643.5,281) rotate(90) scale(0.77,1)" font-size="9" text-anchor="middle" font-weight="normal" fill="#111111" stroke="#111111" stroke-width="0.6" opacity="1" word-spacing="1.2">820</text>
<line x1="681.5" y1="273.3" x2="746.5" y2="273.3" stroke="#111111" stroke-width="1.2"/>
<line x1="746.5" y1="273.3" x2="746.5" y2="275.5" stroke="#111111" stroke-width="1.2"/>
<line x1="746.5" y1="275.5" x2="750" y2="275.5" stroke="#111111" stroke-width="1.2"/>
<text transform="translate(702.3,287.3) scale(0.77,1)" font-size="9.5" text-anchor="start" font-weight="normal" fill="#111111" stroke="#111111" stroke-width="0.6" opacity="1" word-spacing="1.2">S/door Robe</text>
<text transform="translate(690.8,283.5) rotate(-90)" font-size="10.3" text-anchor="middle" font-weight="normal" fill="#111111" stroke="#111111" stroke-width="0.2" opacity="1" word-spacing="0">600</text>
<line x1="695.4000000000001" y1="268.7" x2="701.0" y2="274.3" stroke="#111111" stroke-width="1.8"/>
<line x1="696.7" y1="292.4" x2="702.3" y2="298.0" stroke="#111111" stroke-width="1.8"/>
<line x1="698.2" y1="264" x2="698.2" y2="295.5" stroke="#111111" stroke-width="1.08"/>
<line x1="681" y1="297.5" x2="681" y2="346" stroke="#111111" stroke-width="1.2"/>
<rect x="682.5" y="306.7" width="6.9" height="31.6" fill="#fff" stroke="#111111" stroke-width="1.2" rx="0"/>
<rect x="682.5" y="303.5" width="6.9" height="3.2" fill="#fff" stroke="#111111" stroke-width="1.08" rx="0"/>
<rect x="683.5" y="338.3" width="5.9" height="3" fill="#fff" stroke="#111111" stroke-width="1.08" rx="0"/>
<path d="M650.8,338.3 A31.7,31.7 0 0 1 682.5,306.6" fill="none" stroke="#111111" stroke-width="1.2"/>
<line x1="650.8" y1="338.3" x2="682.5" y2="338.3" stroke="#111111" stroke-width="1.2"/>
<text transform="translate(665,336.8) scale(0.77,1)" font-size="9.5" text-anchor="middle" font-weight="normal" fill="#111111" stroke="#111111" stroke-width="0.6" opacity="1" word-spacing="1.2">820</text>
<line x1="749.5" y1="303" x2="749.5" y2="347.5" stroke="#111111" stroke-width="1.08" stroke-dasharray="4 2"/>
<line x1="722" y1="347.5" x2="752" y2="347.5" stroke="#111111" stroke-width="1.08" stroke-dasharray="4 2"/>
<rect x="748" y="344" width="4" height="4" fill="#fff" stroke="#111111" stroke-width="1.2" rx="0"/>
<line x1="722" y1="355.2" x2="758.7" y2="355.2" stroke="#111111" stroke-width="1.08"/>
<line x1="758.7" y1="303" x2="758.7" y2="355.2" stroke="#111111" stroke-width="1.08"/>
<line x1="713.2" y1="349.5" x2="713.2" y2="367.5" stroke="#111111" stroke-width="1.44"/>
<line x1="715.3" y1="347.5" x2="715.3" y2="367.5" stroke="#111111" stroke-width="1.08"/>
<rect x="777.5" y="314" width="30" height="29" fill="#fff" stroke="#111111" stroke-width="1.3" rx="0"/>
<text transform="translate(781,325.2) scale(0.6,1)" font-size="10.5" text-anchor="start" font-weight="bold" fill="#111111" stroke="#111111" stroke-width="0.6" opacity="1" word-spacing="1.2">Flushed</text>
<text transform="translate(781,337) scale(0.6,1)" font-size="10.5" text-anchor="start" font-weight="bold" fill="#111111" stroke="#111111" stroke-width="0.6" opacity="1" word-spacing="1.2">resistant</text>
<line x1="753" y1="329" x2="777.5" y2="329" stroke="#111111" stroke-width="1.08"/>
<polygon points="742.5,329.0 753.5,326.8 753.5,331.2" fill="#111111"/>
<polyline points="744,358 744,417 777.5,417" fill="none" stroke="#111111" stroke-width="1.08"/>
<polygon points="744.0,347.5 746.2,358.5 741.8,358.5" fill="#111111"/>
<polyline points="751,358 751,394 777.5,394" fill="none" stroke="#111111" stroke-width="1.08"/>
<polygon points="751.0,347.5 753.2,358.5 748.8,358.5" fill="#111111"/>
<text transform="translate(780.5,389) scale(0.77,1)" font-size="9.5" text-anchor="start" font-weight="normal" fill="#111111" stroke="#111111" stroke-width="0.6" opacity="1" word-spacing="1.2">90mm</text>
<text transform="translate(780.5,402) scale(0.77,1)" font-size="9.5" text-anchor="start" font-weight="normal" fill="#111111" stroke="#111111" stroke-width="0.6" opacity="1" word-spacing="1.2">colonial</text>
<text transform="translate(780.5,420) scale(0.77,1)" font-size="9.5" text-anchor="start" font-weight="normal" fill="#111111" stroke="#111111" stroke-width="0.6" opacity="1" word-spacing="1.2">Line of</text>
<polyline points="646,473 646,367 714,367 714,473" fill="none" stroke="#111111" stroke-width="1.2" stroke-dasharray="5 2.5"/>
<text transform="translate(711.5,416) rotate(-90) scale(0.77,1)" font-size="9.5" text-anchor="middle" font-weight="normal" fill="#111111" stroke="#111111" stroke-width="0.6" opacity="1" word-spacing="1.2">Auto Panel Lift Door</text>
<text transform="translate(736,416) rotate(-90) scale(0.77,1)" font-size="9.5" text-anchor="middle" font-weight="normal" fill="#111111" stroke="#111111" stroke-width="0.6" opacity="1" word-spacing="1.2">Full Height x 2410mm W</text>
<rect x="481" y="435" width="8.5" height="33" fill="#fff" stroke="#111111" stroke-width="1.2" rx="0"/>
<line x1="484" y1="435" x2="484" y2="468" stroke="#111111" stroke-width="0.96"/>
<path d="M490.0,435.5 A33,33 0 0 1 523.0,468.5" fill="none" stroke="#111111" stroke-width="1.2"/>
<text transform="translate(510,463) scale(0.77,1)" font-size="9" text-anchor="middle" font-weight="normal" fill="#111111" stroke="#111111" stroke-width="0.6" opacity="1" word-spacing="1.2">820</text>
<rect x="482.5" y="468" width="4" height="4.5" fill="#fff" stroke="#111111" stroke-width="1.08" rx="0"/>
<rect x="486.5" y="468" width="3.5" height="4.5" fill="#fff" stroke="#111111" stroke-width="1.08" rx="0"/>
<circle cx="478" cy="474" r="2" fill="none" stroke="#111111" stroke-width="1.08"/>
<text transform="translate(475,488.5) scale(0.77,1)" font-size="9.5" text-anchor="start" font-weight="normal" fill="#111111" stroke="#111111" stroke-width="0.6" opacity="1" word-spacing="1.2">dp</text>
<text transform="translate(544.5,490.5) scale(0.77,1)" font-size="9.5" text-anchor="start" font-weight="normal" fill="#111111" stroke="#111111" stroke-width="0.6" opacity="1" word-spacing="1.2">Boundary wall with inset gutter</text>
<text transform="translate(721,489) scale(0.77,1)" font-size="9.5" text-anchor="start" font-weight="normal" fill="#111111" stroke="#111111" stroke-width="0.6" opacity="1" word-spacing="1.2">dp</text>
<circle cx="726" cy="474" r="1.8" fill="none" stroke="#111111" stroke-width="1.08"/>
<text transform="translate(116.2,230)" font-size="15.3" text-anchor="middle" font-weight="normal" fill="#111111" stroke="#111111" stroke-width="0.2" opacity="1" word-spacing="0">Family</text>
<text transform="translate(114.7,243.5) scale(0.77,1)" font-size="9.6" text-anchor="middle" font-weight="normal" fill="#111111" stroke="#111111" stroke-width="0.6" opacity="1" word-spacing="1.2">(Planked)</text>
<text transform="translate(259.4,198.5)" font-size="15.3" text-anchor="middle" font-weight="normal" fill="#111111" stroke="#111111" stroke-width="0.2" opacity="1" word-spacing="0">Bed 4</text>
<text transform="translate(258.4,206.5) scale(0.77,1)" font-size="9.6" text-anchor="middle" font-weight="normal" fill="#111111" stroke="#111111" stroke-width="0.6" opacity="1" word-spacing="1.2">(Carpet)</text>
<text transform="translate(578,223)" font-size="15.3" text-anchor="middle" font-weight="normal" fill="#111111" stroke="#111111" stroke-width="0.2" opacity="1" word-spacing="0">Bed 3</text>
<text transform="translate(578,231) scale(0.77,1)" font-size="9.6" text-anchor="middle" font-weight="normal" fill="#111111" stroke="#111111" stroke-width="0.6" opacity="1" word-spacing="1.2">(Carpet)</text>
<text transform="translate(698,223)" font-size="15.3" text-anchor="middle" font-weight="normal" fill="#111111" stroke="#111111" stroke-width="0.2" opacity="1" word-spacing="0">Bed 2</text>
<text transform="translate(698,231) scale(0.77,1)" font-size="9.6" text-anchor="middle" font-weight="normal" fill="#111111" stroke="#111111" stroke-width="0.6" opacity="1" word-spacing="1.2">(Carpet)</text>
<text transform="translate(105.2,366.3)" font-size="15.3" text-anchor="middle" font-weight="normal" fill="#111111" stroke="#111111" stroke-width="0.2" opacity="1" word-spacing="0">Meals</text>
<text transform="translate(106.9,374) scale(0.77,1)" font-size="9.6" text-anchor="middle" font-weight="normal" fill="#111111" stroke="#111111" stroke-width="0.6" opacity="1" word-spacing="1.2">(Planked)</text>
<text transform="translate(347.5,374.3)" font-size="15.3" text-anchor="middle" font-weight="normal" fill="#111111" stroke="#111111" stroke-width="0.2" opacity="1" word-spacing="0">Bed 1</text>
<text transform="translate(347.3,382) scale(0.77,1)" font-size="9.6" text-anchor="middle" font-weight="normal" fill="#111111" stroke="#111111" stroke-width="0.6" opacity="1" word-spacing="1.2">(Carpet)</text>
<text transform="translate(600,423.7)" font-size="15.3" text-anchor="middle" font-weight="normal" fill="#111111" stroke="#111111" stroke-width="0.2" opacity="1" word-spacing="0">Garage</text>
<text transform="translate(602,434.5) scale(0.77,1)" font-size="9.6" text-anchor="middle" font-weight="normal" fill="#111111" stroke="#111111" stroke-width="0.6" opacity="1" word-spacing="1.2">(no setdown)</text>
<text transform="translate(590.9,319.5)" font-size="15.3" text-anchor="middle" font-weight="normal" fill="#111111" stroke="#111111" stroke-width="0.2" opacity="1" word-spacing="0">Entry</text>
<text transform="translate(591.5,329.7) scale(0.77,1)" font-size="9.6" text-anchor="middle" font-weight="normal" fill="#111111" stroke="#111111" stroke-width="0.6" opacity="1" word-spacing="1.2">(Planked)</text>
<text transform="translate(723,320)" font-size="15.3" text-anchor="middle" font-weight="normal" fill="#111111" stroke="#111111" stroke-width="0.2" opacity="1" word-spacing="0">Porch</text>
<text transform="translate(722.5,330) scale(0.77,1)" font-size="9.6" text-anchor="middle" font-weight="normal" fill="#111111" stroke="#111111" stroke-width="0.6" opacity="1" word-spacing="1.2">(UMR-Tiled)</text>
<text transform="translate(233.2,346.7)" font-size="15.3" text-anchor="middle" font-weight="normal" fill="#111111" stroke="#111111" stroke-width="0.2" opacity="1" word-spacing="0">Kit.</text>
<text transform="translate(234.5,354.6) scale(0.77,1)" font-size="9.6" text-anchor="middle" font-weight="normal" fill="#111111" stroke="#111111" stroke-width="0.6" opacity="1" word-spacing="1.2">(Planked)</text>
<text transform="translate(450.6,329)" font-size="15.3" text-anchor="middle" font-weight="normal" fill="#111111" stroke="#111111" stroke-width="0.2" opacity="1" word-spacing="0">WIR</text>
<text transform="translate(450.6,336.7) scale(0.77,1)" font-size="9.6" text-anchor="middle" font-weight="normal" fill="#111111" stroke="#111111" stroke-width="0.6" opacity="1" word-spacing="1.2">(Carpet)</text>
<text transform="translate(379,208)" font-size="15.3" text-anchor="middle" font-weight="normal" fill="#111111" stroke="#111111" stroke-width="0.2" opacity="1" word-spacing="0">L'dry</text>
<text transform="translate(426.75,187)" font-size="15.3" text-anchor="middle" font-weight="normal" fill="#111111" stroke="#111111" stroke-width="0.2" opacity="1" word-spacing="0">WC</text>
<text transform="translate(476.4,211.75)" font-size="15.3" text-anchor="middle" font-weight="normal" fill="#111111" stroke="#111111" stroke-width="0.2" opacity="1" word-spacing="0">Bath</text>
<text transform="translate(453,399.3)" font-size="15.3" text-anchor="middle" font-weight="normal" fill="#111111" stroke="#111111" stroke-width="0.2" opacity="1" word-spacing="0">Ens.</text>
<rect x="585" y="435" width="156" height="60" fill="#ffffff" opacity="0.84"/>
<g font-weight="bold" fill="#7083b0" opacity="0.75">
<text x="634.2" y="457.5" font-size="29.5" textLength="66.5" lengthAdjust="spacingAndGlyphs">rental</text>
<text x="634.2" y="473.7" font-size="29.5" textLength="100" lengthAdjust="spacingAndGlyphs">property</text>
</g>
<polygon points="685,455 690.5,442.5 694,452" fill="#4b6aa0" opacity="0.55"/>
<text x="635" y="491.3" font-size="10.5" fill="#a9a9a9" textLength="63.5" lengthAdjust="spacing">NETWORK</text>
</g>
</svg>
</body></html>
